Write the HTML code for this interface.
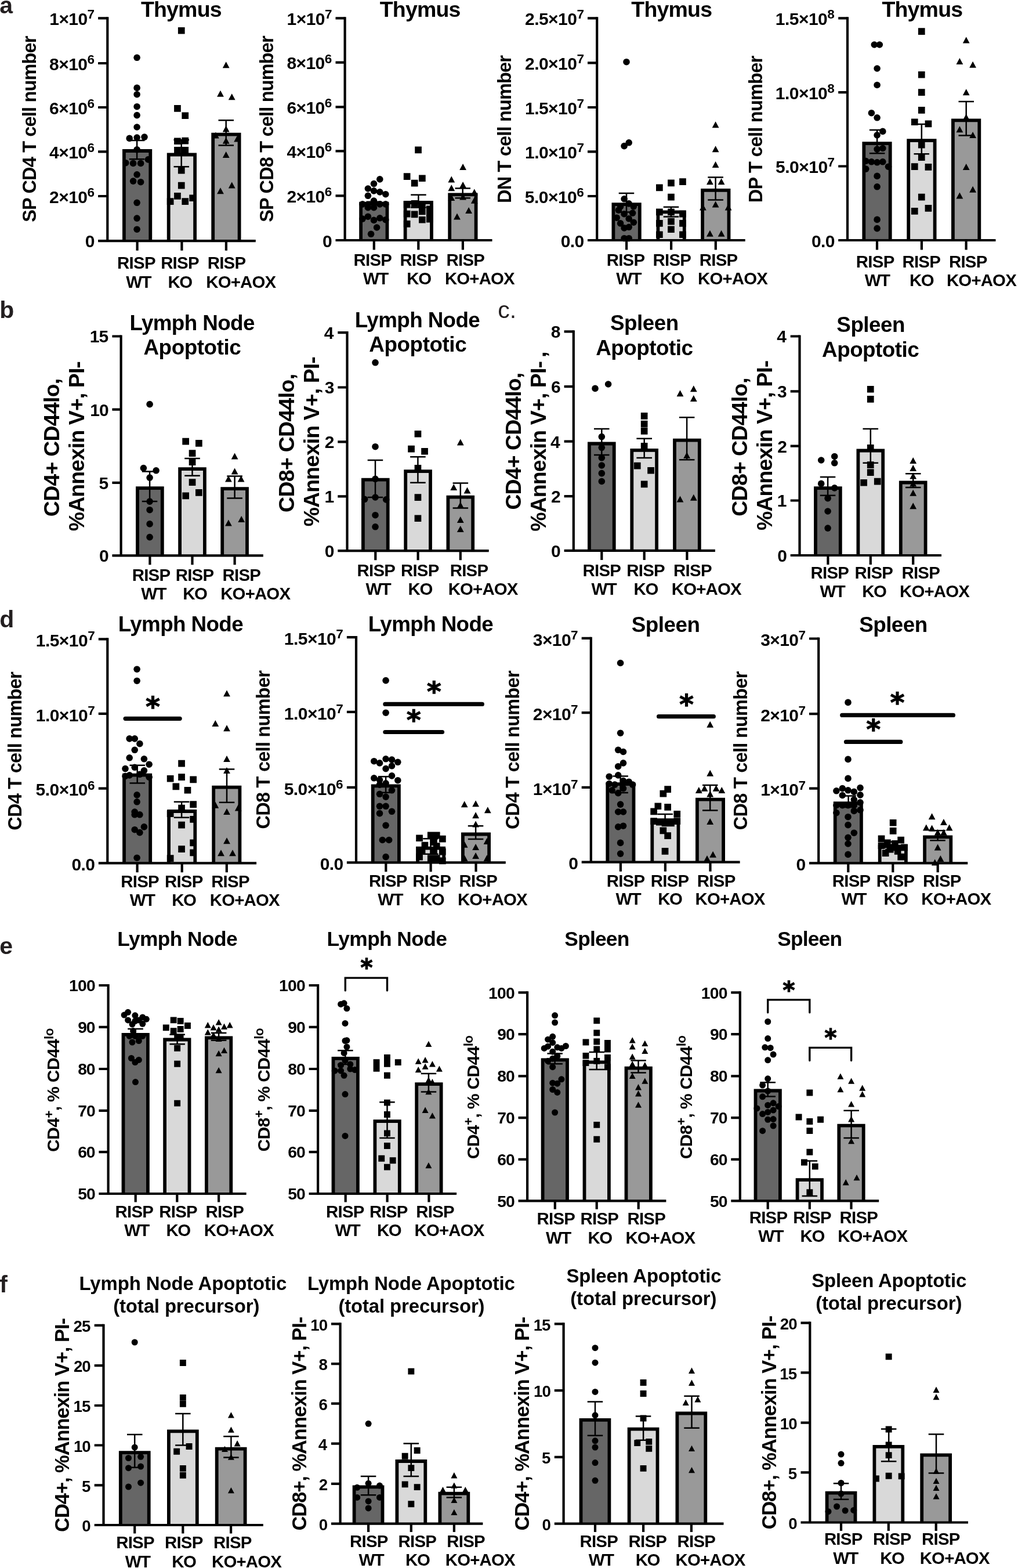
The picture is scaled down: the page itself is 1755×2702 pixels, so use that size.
<!DOCTYPE html>
<html lang="en"><head><meta charset="utf-8"><title>Figure</title>
<style>
html,body{margin:0;padding:0;background:#fff}
body{width:1755px;height:2702px;overflow:hidden}
svg{display:block}
svg text{font-family:'Liberation Sans', sans-serif;font-weight:bold;fill:#000}
</style></head><body>
<svg width="1755" height="2702" viewBox="0 0 1755 2702">
<rect width="1755" height="2702" fill="#fff"/>
<g><rect x="213.9" y="260" width="45.4" height="155.1" fill="#666666"/><path d="M213.9 415.1V260H259.3V415.1" fill="none" stroke="#000" stroke-width="5.8"/><rect x="290.7" y="266.5" width="45.4" height="148.6" fill="#d9d9d9"/><path d="M290.7 415.1V266.5H336.1V415.1" fill="none" stroke="#000" stroke-width="5.8"/><rect x="367.2" y="231.6" width="45.4" height="183.5" fill="#999999"/><path d="M367.2 415.1V231.6H412.6V415.1" fill="none" stroke="#000" stroke-width="5.8"/><path d="M185.3 29.3V417.2M169.1 415.1H440.8" stroke="#000" stroke-width="4.2" fill="none"/><path d="M169.1 31.4H185.3M169.1 109H185.3M169.1 185H185.3M169.1 261.3H185.3M169.1 338H185.3M236.6 415.1V431.7M313.4 415.1V431.7M389.9 415.1V431.7" stroke="#000" stroke-width="4.2" fill="none"/><text x="85.28" y="43.05" font-size="30" letter-spacing="-0.572">1×10<tspan dy="-10.8" font-size="22.5">7</tspan></text><text x="85.1" y="120.67" font-size="30" letter-spacing="-0.572">8×10<tspan dy="-10.8" font-size="22.5">6</tspan></text><text x="85.1" y="196.68" font-size="30" letter-spacing="-0.572">6×10<tspan dy="-10.8" font-size="22.5">6</tspan></text><text x="85.1" y="273" font-size="30" letter-spacing="-0.572">4×10<tspan dy="-10.8" font-size="22.5">6</tspan></text><text x="85.1" y="349.65" font-size="30" letter-spacing="-0.572">2×10<tspan dy="-10.8" font-size="22.5">6</tspan></text><text x="146.66" y="426.3" font-size="30" letter-spacing="0">0</text><path d="M236.1 241.9V274.3M222.8 241.9H249.4M222.8 274.3H249.4M312.7 240.9V287.2M299.5 240.9H326M299.5 287.2H326M389.7 207.3V250.6M376.5 207.3H403M376.5 250.6H403" stroke="#000" stroke-width="2.5" fill="none"/><circle cx="236.1" cy="99.3" r="5.8"/><circle cx="236.1" cy="151.4" r="5.8"/><circle cx="236.1" cy="162.7" r="5.8"/><circle cx="236.1" cy="183.7" r="5.8"/><circle cx="236.1" cy="198.6" r="5.8"/><circle cx="236.1" cy="219" r="5.8"/><circle cx="223.2" cy="238.4" r="5.8"/><circle cx="236.1" cy="237.1" r="5.8"/><circle cx="249" cy="236.1" r="5.8"/><circle cx="236.1" cy="257.8" r="5.8"/><circle cx="255.5" cy="274.9" r="5.8"/><circle cx="216.7" cy="280.7" r="5.8"/><circle cx="229.6" cy="281.4" r="5.8"/><circle cx="242.6" cy="281.4" r="5.8"/><circle cx="236.1" cy="300.8" r="5.8"/><circle cx="229.6" cy="312.1" r="5.8"/><circle cx="242.6" cy="313.7" r="5.8"/><circle cx="236.1" cy="349.3" r="5.8"/><circle cx="236.1" cy="376.1" r="5.8"/><circle cx="236.1" cy="395.2" r="5.8"/><path d="M306.9 46.9h11.7v11.7h-11.7zM300.1 181.1h11.7v11.7h-11.7zM313.4 193.4h11.7v11.7h-11.7zM300.1 237.4h11.7v11.7h-11.7zM313.4 236.7h11.7v11.7h-11.7zM300.1 252.9h11.7v11.7h-11.7zM313.4 252.9h11.7v11.7h-11.7zM306.9 287.8h11.7v11.7h-11.7zM306.9 313.7h11.7v11.7h-11.7zM287.8 341.2h11.7v11.7h-11.7zM300.1 332.1h11.7v11.7h-11.7zM313.4 341.2h11.7v11.7h-11.7zM326.3 335.4h11.7v11.7h-11.7z"/><path d="M389.7 106.3l5.9 11h-11.8zM380 155.8l5.9 11h-11.8zM399.7 161.3l5.9 11h-11.8zM389.7 216.6l5.9 11h-11.8zM371.9 227.6l5.9 11h-11.8zM409.1 233.4l5.9 11h-11.8zM389.7 236.7l5.9 11h-11.8zM389.7 260.9l5.9 11h-11.8zM399.7 313.6l5.9 11h-11.8zM380 323.3l5.9 11h-11.8z"/><text x="242.89" y="29.1" font-size="37.5" letter-spacing="-0.812">Thymus</text><text transform="translate(62.1 382.81) rotate(-90)" font-size="32.5" letter-spacing="-0.84">SP CD4 T cell number</text><text x="202.11" y="463.45" font-size="29.4" letter-spacing="-0.74">RISP</text><text x="217.37" y="496.44" font-size="29.4" letter-spacing="-1.535">WT</text><text x="277.14" y="463.45" font-size="29.4" letter-spacing="-0.74">RISP</text><text x="289.42" y="496.44" font-size="29.4" letter-spacing="-1.384">KO</text><text x="357.67" y="463.45" font-size="29.4" letter-spacing="-0.74">RISP</text><text x="355.31" y="496.44" font-size="29.4" letter-spacing="-0.83">KO+AOX</text></g>
<g><rect x="622.1" y="350.6" width="45.4" height="63.4" fill="#666666"/><path d="M622.1 414V350.6H667.5V414" fill="none" stroke="#000" stroke-width="5.8"/><rect x="698.6" y="349" width="45.4" height="65" fill="#d9d9d9"/><path d="M698.6 414V349H744V414" fill="none" stroke="#000" stroke-width="5.8"/><rect x="775.2" y="335.4" width="45.4" height="78.6" fill="#999999"/><path d="M775.2 414V335.4H820.6V414" fill="none" stroke="#000" stroke-width="5.8"/><path d="M594.6 29.3V416.1M578.5 414H848.5" stroke="#000" stroke-width="4.2" fill="none"/><path d="M578.5 31.4H594.6M578.5 107.7H594.6M578.5 184.3H594.6M578.5 260.3H594.6M578.5 337.3H594.6M644.8 414V430.6M721.3 414V430.6M797.9 414V430.6" stroke="#000" stroke-width="4.2" fill="none"/><text x="494.6" y="43.05" font-size="30" letter-spacing="-0.572">1×10<tspan dy="-10.8" font-size="22.5">7</tspan></text><text x="494.42" y="119.38" font-size="30" letter-spacing="-0.572">8×10<tspan dy="-10.8" font-size="22.5">6</tspan></text><text x="494.42" y="196.03" font-size="30" letter-spacing="-0.572">6×10<tspan dy="-10.8" font-size="22.5">6</tspan></text><text x="494.42" y="272.03" font-size="30" letter-spacing="-0.572">4×10<tspan dy="-10.8" font-size="22.5">6</tspan></text><text x="494.42" y="349" font-size="30" letter-spacing="-0.572">2×10<tspan dy="-10.8" font-size="22.5">6</tspan></text><text x="555.99" y="425.65" font-size="30" letter-spacing="0">0</text><path d="M644.8 347.7V353.2M631.5 347.7H658M631.5 353.2H658M721.4 335.7V357.4M708.2 335.7H734.7M708.2 357.4H734.7M797.7 324.4V341.2M784.5 324.4H811M784.5 341.2H811" stroke="#000" stroke-width="2.5" fill="none"/><circle cx="654.8" cy="308.9" r="5.8"/><circle cx="644.5" cy="316.6" r="5.8"/><circle cx="634.4" cy="325" r="5.8"/><circle cx="644.5" cy="328.9" r="5.8"/><circle cx="654.8" cy="330.9" r="5.8"/><circle cx="664.8" cy="334.7" r="5.8"/><circle cx="634.4" cy="337.3" r="5.8"/><circle cx="644.5" cy="346.1" r="5.8"/><circle cx="625" cy="351.9" r="5.8"/><circle cx="654.8" cy="351.9" r="5.8"/><circle cx="664.8" cy="351.9" r="5.8"/><circle cx="634.4" cy="357.7" r="5.8"/><circle cx="644.5" cy="357.7" r="5.8"/><circle cx="625" cy="377.1" r="5.8"/><circle cx="634.4" cy="373.2" r="5.8"/><circle cx="644.5" cy="379.4" r="5.8"/><circle cx="654.8" cy="375.8" r="5.8"/><circle cx="664.8" cy="378.7" r="5.8"/><circle cx="649.6" cy="392" r="5.8"/><circle cx="639.6" cy="403.3" r="5.8"/><path d="M715.2 252.6h11.7v11.7h-11.7zM695.8 298.2h11.7v11.7h-11.7zM722 301.4h11.7v11.7h-11.7zM708.8 309.8h11.7v11.7h-11.7zM695.8 346.7h11.7v11.7h-11.7zM708.8 345.1h11.7v11.7h-11.7zM722 349.9h11.7v11.7h-11.7zM735 354.4h11.7v11.7h-11.7zM695.8 362.8h11.7v11.7h-11.7zM708.8 363.5h11.7v11.7h-11.7zM722 358.6h11.7v11.7h-11.7zM735 362.8h11.7v11.7h-11.7zM722 372.9h11.7v11.7h-11.7zM735 371.9h11.7v11.7h-11.7zM695.8 380h11.7v11.7h-11.7z"/><path d="M798.1 281.9l5.9 11h-11.8zM778.3 303.6l5.9 11h-11.8zM778.3 318.2l5.9 11h-11.8zM798.1 313l5.9 11h-11.8zM817.8 325.6l5.9 11h-11.8zM778.3 335l5.9 11h-11.8zM798.1 333.4l5.9 11h-11.8zM817.8 339.8l5.9 11h-11.8zM808.1 357l5.9 11h-11.8zM788 367.6l5.9 11h-11.8z"/><text x="654.69" y="29.1" font-size="37.5" letter-spacing="-0.812">Thymus</text><text transform="translate(471.3 382.81) rotate(-90)" font-size="32.5" letter-spacing="-0.819">SP CD8 T cell number</text><text x="609.49" y="457.63" font-size="29.4" letter-spacing="-0.74">RISP</text><text x="626.05" y="489.97" font-size="29.4" letter-spacing="-1.535">WT</text><text x="689.38" y="457.63" font-size="29.4" letter-spacing="-0.74">RISP</text><text x="701.33" y="489.97" font-size="29.4" letter-spacing="-1.384">KO</text><text x="769.58" y="457.63" font-size="29.4" letter-spacing="-0.74">RISP</text><text x="766.9" y="489.97" font-size="29.4" letter-spacing="-0.83">KO+AOX</text></g>
<g><rect x="1057.4" y="352.2" width="45.4" height="61.8" fill="#666666"/><path d="M1057.4 414V352.2H1102.8V414" fill="none" stroke="#000" stroke-width="5.8"/><rect x="1134.4" y="365.4" width="45.4" height="48.5" fill="#d9d9d9"/><path d="M1134.4 414V365.4H1179.8V414" fill="none" stroke="#000" stroke-width="5.8"/><rect x="1211.1" y="327.9" width="45.4" height="86" fill="#999999"/><path d="M1211.1 414V327.9H1256.5V414" fill="none" stroke="#000" stroke-width="5.8"/><path d="M1029.2 29.3V416.1M1013 414H1284.7" stroke="#000" stroke-width="4.2" fill="none"/><path d="M1013 31.4H1029.2M1013 108.3H1029.2M1013 185H1029.2M1013 261.3H1029.2M1013 338H1029.2M1080.1 414V430.6M1157.1 414V430.6M1233.8 414V430.6" stroke="#000" stroke-width="4.2" fill="none"/><text x="904.97" y="43.05" font-size="30" letter-spacing="-0.522">2.5×10<tspan dy="-10.8" font-size="22.5">7</tspan></text><text x="904.97" y="120.03" font-size="30" letter-spacing="-0.522">2.0×10<tspan dy="-10.8" font-size="22.5">7</tspan></text><text x="904.97" y="196.68" font-size="30" letter-spacing="-0.522">1.5×10<tspan dy="-10.8" font-size="22.5">7</tspan></text><text x="904.97" y="273" font-size="30" letter-spacing="-0.522">1.0×10<tspan dy="-10.8" font-size="22.5">7</tspan></text><text x="904.79" y="349.65" font-size="30" letter-spacing="-0.522">5.0×10<tspan dy="-10.8" font-size="22.5">6</tspan></text><text x="966.84" y="425.65" font-size="30" letter-spacing="-0.665">0.0</text><path d="M1080 333.1V365.5M1066.7 333.1H1093.2M1066.7 365.5H1093.2M1156.9 356.7V373.5M1143.7 356.7H1170.2M1143.7 373.5H1170.2M1233.6 305.6V344.4M1220.3 305.6H1246.9M1220.3 344.4H1246.9" stroke="#000" stroke-width="2.5" fill="none"/><circle cx="1080" cy="106.7" r="5.8"/><circle cx="1084.2" cy="245.8" r="5.8"/><circle cx="1076.1" cy="251.6" r="5.8"/><circle cx="1076.1" cy="342.8" r="5.8"/><circle cx="1069.6" cy="355.8" r="5.8"/><circle cx="1084.2" cy="350.9" r="5.8"/><circle cx="1092.3" cy="355.8" r="5.8"/><circle cx="1063.2" cy="375.2" r="5.8"/><circle cx="1076.1" cy="368.7" r="5.8"/><circle cx="1090.6" cy="367.1" r="5.8"/><circle cx="1069.6" cy="384.9" r="5.8"/><circle cx="1084.2" cy="376.8" r="5.8"/><circle cx="1092.3" cy="383.2" r="5.8"/><circle cx="1076.1" cy="392.9" r="5.8"/><circle cx="1084.2" cy="391.3" r="5.8"/><circle cx="1076.1" cy="410.7" r="5.8"/><circle cx="1084.2" cy="410.7" r="5.8"/><circle cx="1066.4" cy="362.2" r="5.8"/><path d="M1131 317.6h11.7v11.7h-11.7zM1151.1 309.5h11.7v11.7h-11.7zM1171.1 307.2h11.7v11.7h-11.7zM1151.1 333.7h11.7v11.7h-11.7zM1131 359.6h11.7v11.7h-11.7zM1151.1 359.6h11.7v11.7h-11.7zM1171.1 362.8h11.7v11.7h-11.7zM1131 379h11.7v11.7h-11.7zM1171.1 379h11.7v11.7h-11.7zM1151.1 389.4h11.7v11.7h-11.7zM1131 398.4h11.7v11.7h-11.7zM1171.1 398.4h11.7v11.7h-11.7zM1151.1 375.8h11.7v11.7h-11.7z"/><path d="M1233.6 209.2l5.9 11h-11.8zM1233.6 251.2l5.9 11h-11.8zM1233.6 278.1l5.9 11h-11.8zM1223.9 307.2l5.9 11h-11.8zM1243.6 307.2l5.9 11h-11.8zM1233.6 346.6l5.9 11h-11.8zM1211.9 351.5l5.9 11h-11.8zM1255.6 351.5l5.9 11h-11.8zM1223.9 396.8l5.9 11h-11.8zM1243.6 396.8l5.9 11h-11.8z"/><text x="1088.29" y="29.1" font-size="37.5" letter-spacing="-0.812">Thymus</text><text transform="translate(880.9 349.94) rotate(-90)" font-size="32.5" letter-spacing="-0.823">DN T cell number</text><text x="1045.66" y="457.63" font-size="29.4" letter-spacing="-0.74">RISP</text><text x="1062.22" y="489.97" font-size="29.4" letter-spacing="-1.535">WT</text><text x="1125.55" y="457.63" font-size="29.4" letter-spacing="-0.74">RISP</text><text x="1137.5" y="489.97" font-size="29.4" letter-spacing="-1.384">KO</text><text x="1205.76" y="457.63" font-size="29.4" letter-spacing="-0.74">RISP</text><text x="1203.07" y="489.97" font-size="29.4" letter-spacing="-0.83">KO+AOX</text></g>
<g><rect x="1489.3" y="247.1" width="45.4" height="166.9" fill="#666666"/><path d="M1489.3 414V247.1H1534.7V414" fill="none" stroke="#000" stroke-width="5.8"/><rect x="1566.2" y="242.2" width="45.4" height="171.7" fill="#d9d9d9"/><path d="M1566.2 414V242.2H1611.6V414" fill="none" stroke="#000" stroke-width="5.8"/><rect x="1642.9" y="207.3" width="45.4" height="206.7" fill="#999999"/><path d="M1642.9 414V207.3H1688.3V414" fill="none" stroke="#000" stroke-width="5.8"/><path d="M1461 29.3V416.1M1445.2 414H1716.5" stroke="#000" stroke-width="4.2" fill="none"/><path d="M1445.2 31.4H1461M1445.2 159.1H1461M1445.2 286.5H1461M1512 414V430.6M1588.9 414V430.6M1665.6 414V430.6" stroke="#000" stroke-width="4.2" fill="none"/><text x="1336.82" y="43.05" font-size="30" letter-spacing="-0.522">1.5×10<tspan dy="-10.8" font-size="22.5">8</tspan></text><text x="1336.82" y="170.8" font-size="30" letter-spacing="-0.522">1.0×10<tspan dy="-10.8" font-size="22.5">8</tspan></text><text x="1337.11" y="298.23" font-size="30" letter-spacing="-0.522">5.0×10<tspan dy="-10.8" font-size="22.5">7</tspan></text><text x="1398.98" y="425.65" font-size="30" letter-spacing="-0.665">0.0</text><path d="M1512.1 224.1V264.2M1498.9 224.1H1525.4M1498.9 264.2H1525.4M1588.8 214.1V265.2M1575.5 214.1H1602M1575.5 265.2H1602M1665.7 175V233.5M1652.5 175H1679M1652.5 233.5H1679" stroke="#000" stroke-width="2.5" fill="none"/><circle cx="1507.3" cy="77" r="5.8"/><circle cx="1516.3" cy="77" r="5.8"/><circle cx="1512.1" cy="118" r="5.8"/><circle cx="1512.1" cy="146.5" r="5.8"/><circle cx="1502.4" cy="194.7" r="5.8"/><circle cx="1512.1" cy="202.8" r="5.8"/><circle cx="1521.8" cy="226.4" r="5.8"/><circle cx="1512.1" cy="232.9" r="5.8"/><circle cx="1512.1" cy="257.1" r="5.8"/><circle cx="1521.8" cy="255.5" r="5.8"/><circle cx="1492.7" cy="277.5" r="5.8"/><circle cx="1502.4" cy="278.8" r="5.8"/><circle cx="1512.1" cy="279.8" r="5.8"/><circle cx="1521.8" cy="278.8" r="5.8"/><circle cx="1531.5" cy="287.2" r="5.8"/><circle cx="1492.7" cy="291.1" r="5.8"/><circle cx="1512.1" cy="303.4" r="5.8"/><circle cx="1512.1" cy="321.8" r="5.8"/><circle cx="1512.1" cy="378.4" r="5.8"/><circle cx="1512.1" cy="393.6" r="5.8"/><path d="M1582.9 48.2h11.7v11.7h-11.7zM1582.9 122.9h11.7v11.7h-11.7zM1582.9 153.3h11.7v11.7h-11.7zM1582.9 184h11.7v11.7h-11.7zM1570.9 204.4h11.7v11.7h-11.7zM1594.6 207.6h11.7v11.7h-11.7zM1582.9 243.8h11.7v11.7h-11.7zM1582.9 265.2h11.7v11.7h-11.7zM1570.9 281.3h11.7v11.7h-11.7zM1594.6 282h11.7v11.7h-11.7zM1582.9 333.7h11.7v11.7h-11.7zM1570.9 358h11.7v11.7h-11.7zM1594.6 353.1h11.7v11.7h-11.7z"/><path d="M1665.7 63.6l5.9 11h-11.8zM1654.4 99.9l5.9 11h-11.8zM1677.1 105.7l5.9 11h-11.8zM1665.7 153.2l5.9 11h-11.8zM1665.7 196.2l5.9 11h-11.8zM1654.4 217.3l5.9 11h-11.8zM1677.1 227l5.9 11h-11.8zM1665.7 281.9l5.9 11h-11.8zM1677.1 320.7l5.9 11h-11.8zM1654.4 331.4l5.9 11h-11.8z"/><text x="1520.39" y="29.1" font-size="37.5" letter-spacing="-0.812">Thymus</text><text transform="translate(1313.7 349.25) rotate(-90)" font-size="32.5" letter-spacing="-0.765">DP T cell number</text><text x="1475.87" y="460.87" font-size="29.4" letter-spacing="-0.74">RISP</text><text x="1490.81" y="493.21" font-size="29.4" letter-spacing="-1.535">WT</text><text x="1555.43" y="460.87" font-size="29.4" letter-spacing="-0.74">RISP</text><text x="1568.03" y="493.21" font-size="29.4" letter-spacing="-1.384">KO</text><text x="1635.96" y="460.87" font-size="29.4" letter-spacing="-0.74">RISP</text><text x="1631.97" y="493.21" font-size="29.4" letter-spacing="-0.83">KO+AOX</text></g>
<g><rect x="237" y="841.2" width="42.8" height="116.1" fill="#666666"/><path d="M237 957.3V841.2H279.8V957.3" fill="none" stroke="#000" stroke-width="5.8"/><rect x="310.1" y="808.2" width="42.8" height="149.1" fill="#d9d9d9"/><path d="M310.1 957.3V808.2H352.9V957.3" fill="none" stroke="#000" stroke-width="5.8"/><rect x="383.2" y="842.1" width="42.8" height="115.1" fill="#999999"/><path d="M383.2 957.3V842.1H426V957.3" fill="none" stroke="#000" stroke-width="5.8"/><path d="M208.6 577.4V959.4M193.4 957.3H453.8" stroke="#000" stroke-width="4.2" fill="none"/><path d="M193.4 579.5H208.6M193.4 705.7H208.6M193.4 831.8H208.6M258.4 957.3V973.3M331.5 957.3V973.3M404.6 957.3V973.3" stroke="#000" stroke-width="4.2" fill="none"/><text x="154.87" y="590.42" font-size="30" letter-spacing="-1.038">15</text><text x="155.25" y="716.55" font-size="30" letter-spacing="-1.025">10</text><text x="170.52" y="842.68" font-size="30" letter-spacing="0">5</text><text x="170.91" y="968.17" font-size="30" letter-spacing="0">0</text><path d="M258.1 812.4V864.1M244.8 812.4H271.3M244.8 864.1H271.3M331.5 790.1V819.8M318.2 790.1H344.8M318.2 819.8H344.8M404.6 820.5V858.6M391.3 820.5H417.9M391.3 858.6H417.9" stroke="#000" stroke-width="2.5" fill="none"/><circle cx="258.1" cy="696.6" r="5.8"/><circle cx="247.4" cy="806.6" r="5.8"/><circle cx="269.1" cy="810.8" r="5.8"/><circle cx="258.1" cy="823.1" r="5.8"/><circle cx="258.1" cy="864.1" r="5.8"/><circle cx="258.1" cy="878.7" r="5.8"/><circle cx="258.1" cy="902.9" r="5.8"/><circle cx="258.1" cy="925.6" r="5.8"/><path d="M314.3 754.8h11.7v11.7h-11.7zM337 758h11.7v11.7h-11.7zM325.7 775.2h11.7v11.7h-11.7zM325.7 790.4h11.7v11.7h-11.7zM325.7 825.3h11.7v11.7h-11.7zM337 843.1h11.7v11.7h-11.7zM314.3 848.6h11.7v11.7h-11.7z"/><path d="M404.6 780.6l5.9 11h-11.8zM404.6 806.5l5.9 11h-11.8zM393.9 819.4l5.9 11h-11.8zM415.6 819.4l5.9 11h-11.8zM416.2 889l5.9 11h-11.8zM393.9 895.4l5.9 11h-11.8z"/><text x="223.42" y="568.5" font-size="36.8" letter-spacing="-0.609">Lymph Node</text><text x="247.47" y="610.9" font-size="36.8" letter-spacing="-0.428">Apoptotic</text><text transform="translate(101.7 890.13) rotate(-90)" font-size="37.4" letter-spacing="-0.725">CD4+ CD44lo,</text><text transform="translate(145 915.2) rotate(-90)" font-size="37.4" letter-spacing="-0.896">%Annexin V+, PI-</text><text x="227.66" y="1000.94" font-size="29.4" letter-spacing="-0.74">RISP</text><text x="243.25" y="1033.29" font-size="29.4" letter-spacing="-1.535">WT</text><text x="302.69" y="1000.94" font-size="29.4" letter-spacing="-0.74">RISP</text><text x="315.29" y="1033.29" font-size="29.4" letter-spacing="-1.384">KO</text><text x="383.54" y="1000.94" font-size="29.4" letter-spacing="-0.74">RISP</text><text x="380.21" y="1033.29" font-size="29.4" letter-spacing="-0.83">KO+AOX</text></g>
<g><rect x="625.9" y="826.6" width="42.8" height="122.6" fill="#666666"/><path d="M625.9 949.2V826.6H668.7V949.2" fill="none" stroke="#000" stroke-width="5.8"/><rect x="699.2" y="812.1" width="42.8" height="137.1" fill="#d9d9d9"/><path d="M699.2 949.2V812.1H742V949.2" fill="none" stroke="#000" stroke-width="5.8"/><rect x="772.4" y="856.7" width="42.8" height="92.5" fill="#999999"/><path d="M772.4 949.2V856.7H815.2V949.2" fill="none" stroke="#000" stroke-width="5.8"/><path d="M598.5 571V951.3M582.3 949.2H842.7" stroke="#000" stroke-width="4.2" fill="none"/><path d="M582.3 573.1H598.5M582.3 667.5H598.5M582.3 761.3H598.5M582.3 855.4H598.5M647.3 949.2V965.2M720.6 949.2V965.2M793.8 949.2V965.2" stroke="#000" stroke-width="4.2" fill="none"/><text x="558.76" y="583.95" font-size="30" letter-spacing="0">4</text><text x="559.66" y="678.39" font-size="30" letter-spacing="0">3</text><text x="559.78" y="772.18" font-size="30" letter-spacing="0">2</text><text x="559.42" y="866.29" font-size="30" letter-spacing="0">1</text><text x="559.81" y="960.08" font-size="30" letter-spacing="0">0</text><path d="M647 793V857M633.7 793H660.2M633.7 857H660.2M720.4 787.2V831.8M707.1 787.2H733.7M707.1 831.8H733.7M793.8 832.4V875.5M780.6 832.4H807.1M780.6 875.5H807.1" stroke="#000" stroke-width="2.5" fill="none"/><circle cx="647" cy="624.8" r="5.8"/><circle cx="647" cy="769.7" r="5.8"/><circle cx="647" cy="825.3" r="5.8"/><circle cx="628.6" cy="860.3" r="5.8"/><circle cx="647" cy="857" r="5.8"/><circle cx="665.7" cy="860.9" r="5.8"/><circle cx="647" cy="887.7" r="5.8"/><circle cx="647" cy="907.8" r="5.8"/><path d="M714.6 741.9h11.7v11.7h-11.7zM703.2 767.7h11.7v11.7h-11.7zM726.2 771.9h11.7v11.7h-11.7zM714.6 801h11.7v11.7h-11.7zM714.6 851.2h11.7v11.7h-11.7zM714.6 887.4h11.7v11.7h-11.7z"/><path d="M793.8 756.4l5.9 11h-11.8zM782.2 834l5.9 11h-11.8zM805.5 839.5l5.9 11h-11.8zM793.8 864.7l5.9 11h-11.8zM793.8 889.9l5.9 11h-11.8zM793.8 906.1l5.9 11h-11.8z"/><text x="611.82" y="563.7" font-size="36.8" letter-spacing="-0.609">Lymph Node</text><text x="636.37" y="606.1" font-size="36.8" letter-spacing="-0.428">Apoptotic</text><text transform="translate(506.7 882.93) rotate(-90)" font-size="37.4" letter-spacing="-0.662">CD8+ CD44lo,</text><text transform="translate(549.7 907.3) rotate(-90)" font-size="37.4" letter-spacing="-0.896">%Annexin V+, PI-</text><text x="615.59" y="992.54" font-size="29.4" letter-spacing="-0.74">RISP</text><text x="630.53" y="1024.88" font-size="29.4" letter-spacing="-1.535">WT</text><text x="690.94" y="992.54" font-size="29.4" letter-spacing="-0.74">RISP</text><text x="703.55" y="1024.88" font-size="29.4" letter-spacing="-1.384">KO</text><text x="775.68" y="992.54" font-size="29.4" letter-spacing="-0.74">RISP</text><text x="772.67" y="1024.88" font-size="29.4" letter-spacing="-0.83">KO+AOX</text></g>
<g><rect x="1015.9" y="764.5" width="42.8" height="184.4" fill="#666666"/><path d="M1015.9 948.9V764.5H1058.7V948.9" fill="none" stroke="#000" stroke-width="5.8"/><rect x="1089.3" y="775.8" width="42.8" height="173" fill="#d9d9d9"/><path d="M1089.3 948.9V775.8H1132.1V948.9" fill="none" stroke="#000" stroke-width="5.8"/><rect x="1163" y="758.7" width="42.8" height="190.2" fill="#999999"/><path d="M1163 948.9V758.7H1205.8V948.9" fill="none" stroke="#000" stroke-width="5.8"/><path d="M988.8 569.3V951M972.6 948.9H1232.9" stroke="#000" stroke-width="4.2" fill="none"/><path d="M972.6 571.4H988.8M972.6 666.2H988.8M972.6 760.6H988.8M972.6 855.1H988.8M1037.3 948.9V964.9M1110.7 948.9V964.9M1184.4 948.9V964.9" stroke="#000" stroke-width="4.2" fill="none"/><text x="949.81" y="582.33" font-size="30" letter-spacing="0">8</text><text x="949.96" y="677.09" font-size="30" letter-spacing="0">6</text><text x="949.06" y="771.53" font-size="30" letter-spacing="0">4</text><text x="950.08" y="865.97" font-size="30" letter-spacing="0">2</text><text x="950.11" y="959.76" font-size="30" letter-spacing="0">0</text><path d="M1037.3 739V783.9M1024 739H1050.5M1024 783.9H1050.5M1110.7 755.8V789.1M1097.4 755.8H1124M1097.4 789.1H1124M1184.1 719.2V792.3M1170.9 719.2H1197.4M1170.9 792.3H1197.4" stroke="#000" stroke-width="2.5" fill="none"/><circle cx="1026" cy="669.4" r="5.8"/><circle cx="1048.6" cy="662" r="5.8"/><circle cx="1037.3" cy="752.6" r="5.8"/><circle cx="1037.3" cy="771.3" r="5.8"/><circle cx="1037.3" cy="788.8" r="5.8"/><circle cx="1037.3" cy="802" r="5.8"/><circle cx="1037.3" cy="815.6" r="5.8"/><circle cx="1037.3" cy="829.5" r="5.8"/><path d="M1104.8 711.1h11.7v11.7h-11.7zM1104.8 724.7h11.7v11.7h-11.7zM1104.8 737h11.7v11.7h-11.7zM1104.8 762.9h11.7v11.7h-11.7zM1092.9 796.8h11.7v11.7h-11.7zM1116.2 804.9h11.7v11.7h-11.7zM1104.8 828.5h11.7v11.7h-11.7z"/><path d="M1172.5 672.3l5.9 11h-11.8zM1195.8 664.2l5.9 11h-11.8zM1195.8 681l5.9 11h-11.8zM1184.1 779l5.9 11h-11.8zM1172.5 854.4l5.9 11h-11.8zM1195.8 851.8l5.9 11h-11.8z"/><text x="1052.07" y="569.1" font-size="36.8" letter-spacing="-0.511">Spleen</text><text x="1027.32" y="611.8" font-size="36.8" letter-spacing="-0.515">Apoptotic</text><text transform="translate(897.8 878.53) rotate(-90)" font-size="37.4" letter-spacing="-0.88">CD4+ CD44lo,</text><text transform="translate(941.4 915.8) rotate(-90)" font-size="37.4" letter-spacing="-0.849">%Annexin V+, PI-</text><text transform="translate(941.4 616.01) rotate(-90)" font-size="37.4" letter-spacing="0">,</text><text x="1004.59" y="992.54" font-size="29.4" letter-spacing="-0.74">RISP</text><text x="1019.53" y="1024.88" font-size="29.4" letter-spacing="-1.535">WT</text><text x="1080.27" y="992.54" font-size="29.4" letter-spacing="-0.74">RISP</text><text x="1092.55" y="1024.88" font-size="29.4" letter-spacing="-1.384">KO</text><text x="1161.12" y="992.54" font-size="29.4" letter-spacing="-0.74">RISP</text><text x="1157.79" y="1024.88" font-size="29.4" letter-spacing="-0.83">KO+AOX</text></g>
<g><rect x="1406" y="841.2" width="42.8" height="115.8" fill="#666666"/><path d="M1406 957V841.2H1448.8V957" fill="none" stroke="#000" stroke-width="5.8"/><rect x="1479.4" y="776.5" width="42.8" height="180.5" fill="#d9d9d9"/><path d="M1479.4 957V776.5H1522.2V957" fill="none" stroke="#000" stroke-width="5.8"/><rect x="1552.8" y="831.5" width="42.8" height="125.5" fill="#999999"/><path d="M1552.8 957V831.5H1595.6V957" fill="none" stroke="#000" stroke-width="5.8"/><path d="M1378.5 577.4V959.1M1362.7 957H1623" stroke="#000" stroke-width="4.2" fill="none"/><path d="M1362.7 579.5H1378.5M1362.7 674.3H1378.5M1362.7 768.7H1378.5M1362.7 862.5H1378.5M1427.4 957V973M1500.8 957V973M1574.2 957V973" stroke="#000" stroke-width="4.2" fill="none"/><text x="1339.16" y="590.42" font-size="30" letter-spacing="0">4</text><text x="1340.06" y="685.18" font-size="30" letter-spacing="0">3</text><text x="1340.18" y="779.61" font-size="30" letter-spacing="0">2</text><text x="1339.82" y="873.4" font-size="30" letter-spacing="0">1</text><text x="1340.21" y="967.84" font-size="30" letter-spacing="0">0</text><path d="M1427.1 822.1V853.8M1413.8 822.1H1440.3M1413.8 853.8H1440.3M1500.8 739V797.8M1487.5 739H1514.1M1487.5 797.8H1514.1M1574.2 816.3V839.9M1561 816.3H1587.5M1561 839.9H1587.5" stroke="#000" stroke-width="2.5" fill="none"/><circle cx="1415.7" cy="793" r="5.8"/><circle cx="1438.7" cy="786.5" r="5.8"/><circle cx="1438.7" cy="797.8" r="5.8"/><circle cx="1415.7" cy="833.4" r="5.8"/><circle cx="1438.7" cy="840.9" r="5.8"/><circle cx="1427.1" cy="858.6" r="5.8"/><circle cx="1427.1" cy="881" r="5.8"/><circle cx="1427.1" cy="910.1" r="5.8"/><path d="M1494.9 664.9h11.7v11.7h-11.7zM1494.9 682h11.7v11.7h-11.7zM1494.9 766.1h11.7v11.7h-11.7zM1494.9 795.2h11.7v11.7h-11.7zM1494.9 808.2h11.7v11.7h-11.7zM1483.3 825.9h11.7v11.7h-11.7zM1506.9 823.7h11.7v11.7h-11.7z"/><path d="M1574.2 788.1l5.9 11h-11.8zM1574.2 801l5.9 11h-11.8zM1574.2 814.6l5.9 11h-11.8zM1574.2 827.5l5.9 11h-11.8zM1574.2 843.7l5.9 11h-11.8zM1574.2 866.3l5.9 11h-11.8z"/><text x="1442.37" y="572" font-size="36.8" letter-spacing="-0.511">Spleen</text><text x="1417.12" y="614.6" font-size="36.8" letter-spacing="-0.515">Apoptotic</text><text transform="translate(1288.1 889.83) rotate(-90)" font-size="37.4" letter-spacing="-0.643">CD8+ CD44lo,</text><text transform="translate(1331.1 914) rotate(-90)" font-size="37.4" letter-spacing="-0.876">%Annexin V+, PI-</text><text x="1397.6" y="996.74" font-size="29.4" letter-spacing="-0.74">RISP</text><text x="1413.51" y="1029.08" font-size="29.4" letter-spacing="-1.535">WT</text><text x="1473.6" y="996.74" font-size="29.4" letter-spacing="-0.74">RISP</text><text x="1486.2" y="1029.08" font-size="29.4" letter-spacing="-1.384">KO</text><text x="1554.45" y="996.74" font-size="29.4" letter-spacing="-0.74">RISP</text><text x="1551.12" y="1029.08" font-size="29.4" letter-spacing="-0.83">KO+AOX</text></g>
<g><rect x="214" y="1335.6" width="45.2" height="151.7" fill="#666666"/><path d="M214 1487.3V1335.6H259.2V1487.3" fill="none" stroke="#000" stroke-width="5.8"/><rect x="291.1" y="1398" width="45.2" height="89.3" fill="#d9d9d9"/><path d="M291.1 1487.3V1398H336.3V1487.3" fill="none" stroke="#000" stroke-width="5.8"/><rect x="368.2" y="1356.6" width="45.2" height="130.7" fill="#999999"/><path d="M368.2 1487.3V1356.6H413.4V1487.3" fill="none" stroke="#000" stroke-width="5.8"/><path d="M185.3 1099.3V1489.4M169.8 1487.3H442.1" stroke="#000" stroke-width="4.2" fill="none"/><path d="M169.8 1101.4H185.3M169.8 1229.8H185.3M169.8 1358.6H185.3M236.6 1487.3V1503.3M313.7 1487.3V1503.3M390.8 1487.3V1503.3" stroke="#000" stroke-width="4.2" fill="none"/><text x="61.74" y="1114.23" font-size="30" letter-spacing="-0.522">1.5×10<tspan dy="-10.8" font-size="22.5">7</tspan></text><text x="61.74" y="1242.63" font-size="30" letter-spacing="-0.522">1.0×10<tspan dy="-10.8" font-size="22.5">7</tspan></text><text x="61.56" y="1371.35" font-size="30" letter-spacing="-0.522">5.0×10<tspan dy="-10.8" font-size="22.5">6</tspan></text><text x="123.6" y="1500.07" font-size="30" letter-spacing="-0.665">0.0</text><path d="M236.7 1318.8V1349.5M223.5 1318.8H250M223.5 1349.5H250M313.1 1381.8V1408.7M299.8 1381.8H326.3M299.8 1408.7H326.3M391 1325.6V1382.8M377.7 1325.6H404.3M377.7 1382.8H404.3" stroke="#000" stroke-width="2.5" fill="none"/><circle cx="236.1" cy="1153.2" r="5.8"/><circle cx="236.1" cy="1173.2" r="5.8"/><circle cx="223.2" cy="1272.9" r="5.8"/><circle cx="232.2" cy="1272.9" r="5.8"/><circle cx="240.9" cy="1281.6" r="5.8"/><circle cx="232.2" cy="1292.3" r="5.8"/><circle cx="223.2" cy="1305.8" r="5.8"/><circle cx="248.4" cy="1307.8" r="5.8"/><circle cx="257.1" cy="1317.2" r="5.8"/><circle cx="216" cy="1324.6" r="5.8"/><circle cx="232.2" cy="1322.3" r="5.8"/><circle cx="248.4" cy="1327.8" r="5.8"/><circle cx="223.2" cy="1335.9" r="5.8"/><circle cx="240.9" cy="1334.3" r="5.8"/><circle cx="257.1" cy="1339.2" r="5.8"/><circle cx="216" cy="1337.5" r="5.8"/><circle cx="236.1" cy="1369.9" r="5.8"/><circle cx="236.1" cy="1381.8" r="5.8"/><circle cx="232.2" cy="1399" r="5.8"/><circle cx="240.9" cy="1403.8" r="5.8"/><circle cx="232.2" cy="1403.8" r="5.8"/><circle cx="248.4" cy="1424.9" r="5.8"/><circle cx="232.2" cy="1429.7" r="5.8"/><circle cx="240.9" cy="1434.6" r="5.8"/><circle cx="236.1" cy="1478.2" r="5.8"/><path d="M307.2 1309.7h11.7v11.7h-11.7zM287.8 1335.9h11.7v11.7h-11.7zM307.2 1333.3h11.7v11.7h-11.7zM327.3 1337.5h11.7v11.7h-11.7zM297.5 1349.5h11.7v11.7h-11.7zM317.6 1355.9h11.7v11.7h-11.7zM327.3 1380.2h11.7v11.7h-11.7zM307.2 1386.7h11.7v11.7h-11.7zM287.8 1396.4h11.7v11.7h-11.7zM327.3 1406.1h11.7v11.7h-11.7zM307.2 1415.8h11.7v11.7h-11.7zM327.3 1446.5h11.7v11.7h-11.7zM307.2 1457.2h11.7v11.7h-11.7zM327.3 1463.6h11.7v11.7h-11.7zM287.8 1473.3h11.7v11.7h-11.7z"/><path d="M391 1189.3l5.9 11h-11.8zM371.3 1241.1l5.9 11h-11.8zM391 1249.2l5.9 11h-11.8zM391 1301.9l5.9 11h-11.8zM391 1321.9l5.9 11h-11.8zM371.3 1381.8l5.9 11h-11.8zM410.7 1386.6l5.9 11h-11.8zM391 1393.1l5.9 11h-11.8zM391 1443.2l5.9 11h-11.8zM381 1464.2l5.9 11h-11.8zM401 1464.2l5.9 11h-11.8z"/><path d="M216.1 1238.3H310.1" stroke="#000" stroke-width="7.2" stroke-linecap="round" fill="none"/><text x="251.32" y="1233.71" font-size="46.9" stroke="#000" stroke-width="1.34" style="font-family:'DejaVu Sans',sans-serif">*</text><text x="203.72" y="1088.4" font-size="36.8" letter-spacing="-0.609">Lymph Node</text><text transform="translate(36.9 1430.73) rotate(-90)" font-size="32.5" letter-spacing="-0.741">CD4 T cell number</text><text x="208.25" y="1529" font-size="29.4" letter-spacing="-0.74">RISP</text><text x="223.84" y="1561.35" font-size="29.4" letter-spacing="-1.535">WT</text><text x="283.93" y="1529" font-size="29.4" letter-spacing="-0.74">RISP</text><text x="296.21" y="1561.35" font-size="29.4" letter-spacing="-1.384">KO</text><text x="364.14" y="1529" font-size="29.4" letter-spacing="-0.74">RISP</text><text x="361.77" y="1561.35" font-size="29.4" letter-spacing="-0.83">KO+AOX</text></g>
<g><rect x="642.7" y="1354.3" width="45.2" height="132" fill="#666666"/><path d="M642.7 1486.3V1354.3H687.9V1486.3" fill="none" stroke="#000" stroke-width="5.8"/><rect x="720" y="1461.7" width="45.2" height="24.6" fill="#d9d9d9"/><path d="M720 1486.3V1461.7H765.2V1486.3" fill="none" stroke="#000" stroke-width="5.8"/><rect x="797.9" y="1437.5" width="45.2" height="48.8" fill="#999999"/><path d="M797.9 1486.3V1437.5H843.1V1486.3" fill="none" stroke="#000" stroke-width="5.8"/><path d="M614 1096.1V1488.4M597.9 1486.3H871.8" stroke="#000" stroke-width="4.2" fill="none"/><path d="M597.9 1098.2H614M597.9 1226.9H614M597.9 1356.9H614M665.3 1486.3V1502.3M742.6 1486.3V1502.3M820.5 1486.3V1502.3" stroke="#000" stroke-width="4.2" fill="none"/><text x="489.82" y="1111" font-size="30" letter-spacing="-0.522">1.5×10<tspan dy="-10.8" font-size="22.5">7</tspan></text><text x="489.82" y="1239.72" font-size="30" letter-spacing="-0.522">1.0×10<tspan dy="-10.8" font-size="22.5">7</tspan></text><text x="489.64" y="1369.73" font-size="30" letter-spacing="-0.522">5.0×10<tspan dy="-10.8" font-size="22.5">6</tspan></text><text x="551.69" y="1499.1" font-size="30" letter-spacing="-0.665">0.0</text><path d="M665.1 1338.2V1365.7M651.9 1338.2H678.4M651.9 1365.7H678.4M742.4 1445.2V1471.8M729.2 1445.2H755.7M729.2 1471.8H755.7M820.1 1423.2V1445.9M806.8 1423.2H833.3M806.8 1445.9H833.3" stroke="#000" stroke-width="2.5" fill="none"/><circle cx="665.1" cy="1172.6" r="5.8"/><circle cx="665.1" cy="1228.2" r="5.8"/><circle cx="644.8" cy="1311.7" r="5.8"/><circle cx="654.5" cy="1314.9" r="5.8"/><circle cx="665.1" cy="1307.8" r="5.8"/><circle cx="675.5" cy="1309.1" r="5.8"/><circle cx="685.8" cy="1313.3" r="5.8"/><circle cx="675.5" cy="1319.8" r="5.8"/><circle cx="665.1" cy="1324.6" r="5.8"/><circle cx="644.8" cy="1340.8" r="5.8"/><circle cx="654.5" cy="1344" r="5.8"/><circle cx="675.5" cy="1336.9" r="5.8"/><circle cx="685.8" cy="1344.7" r="5.8"/><circle cx="665.1" cy="1349.8" r="5.8"/><circle cx="654.5" cy="1352.1" r="5.8"/><circle cx="675.5" cy="1361.8" r="5.8"/><circle cx="654.5" cy="1368.3" r="5.8"/><circle cx="665.1" cy="1373.1" r="5.8"/><circle cx="654.5" cy="1389.3" r="5.8"/><circle cx="665.1" cy="1389.3" r="5.8"/><circle cx="675.5" cy="1398.3" r="5.8"/><circle cx="654.5" cy="1401.6" r="5.8"/><circle cx="665.1" cy="1422.3" r="5.8"/><circle cx="659.3" cy="1447.5" r="5.8"/><circle cx="670.6" cy="1447.5" r="5.8"/><circle cx="665.1" cy="1476.6" r="5.8"/><path d="M717.2 1438.4h11.7v11.7h-11.7zM736.9 1433.6h11.7v11.7h-11.7zM746.9 1433.6h11.7v11.7h-11.7zM757 1439.7h11.7v11.7h-11.7zM726.6 1450.7h11.7v11.7h-11.7zM742.1 1445.5h11.7v11.7h-11.7zM746.9 1452.3h11.7v11.7h-11.7zM721.7 1460.7h11.7v11.7h-11.7zM742.1 1460.7h11.7v11.7h-11.7zM757 1461.7h11.7v11.7h-11.7zM717.2 1470.8h11.7v11.7h-11.7zM736.9 1473.3h11.7v11.7h-11.7zM746.9 1473.3h11.7v11.7h-11.7zM757 1477.6h11.7v11.7h-11.7z"/><path d="M800.7 1380.2l5.9 11h-11.8zM820.1 1379.2l5.9 11h-11.8zM840.8 1390.2l5.9 11h-11.8zM820.1 1399.2l5.9 11h-11.8zM820.1 1414.4l5.9 11h-11.8zM820.1 1453.9l5.9 11h-11.8zM820.1 1469.1l5.9 11h-11.8zM800.7 1449.7l5.9 11h-11.8zM839.5 1443.9l5.9 11h-11.8zM800.7 1473.3l5.9 11h-11.8zM839.5 1473.3l5.9 11h-11.8z"/><path d="M663.9 1213.4H831.3" stroke="#000" stroke-width="7.2" stroke-linecap="round" fill="none"/><path d="M663.9 1261.5H762.5" stroke="#000" stroke-width="7.2" stroke-linecap="round" fill="none"/><text x="736" y="1207.84" font-size="46.9" stroke="#000" stroke-width="1.34" style="font-family:'DejaVu Sans',sans-serif">*</text><text x="701.07" y="1257" font-size="46.9" stroke="#000" stroke-width="1.34" style="font-family:'DejaVu Sans',sans-serif">*</text><text x="634.82" y="1088.4" font-size="36.8" letter-spacing="-0.609">Lymph Node</text><text transform="translate(464.6 1428.53) rotate(-90)" font-size="32.5" letter-spacing="-0.741">CD8 T cell number</text><text x="636.01" y="1528.36" font-size="29.4" letter-spacing="-0.74">RISP</text><text x="651.28" y="1560.05" font-size="29.4" letter-spacing="-1.535">WT</text><text x="711.37" y="1528.36" font-size="29.4" letter-spacing="-0.74">RISP</text><text x="723.97" y="1560.05" font-size="29.4" letter-spacing="-1.384">KO</text><text x="791.58" y="1528.36" font-size="29.4" letter-spacing="-0.74">RISP</text><text x="788.89" y="1560.05" font-size="29.4" letter-spacing="-0.83">KO+AOX</text></g>
<g><rect x="1047.3" y="1351.1" width="45.2" height="134.6" fill="#666666"/><path d="M1047.3 1485.7V1351.1H1092.5V1485.7" fill="none" stroke="#000" stroke-width="5.8"/><rect x="1124.3" y="1413.2" width="45.2" height="72.5" fill="#d9d9d9"/><path d="M1124.3 1485.7V1413.2H1169.5V1485.7" fill="none" stroke="#000" stroke-width="5.8"/><rect x="1201.9" y="1377.6" width="45.2" height="108" fill="#999999"/><path d="M1201.9 1485.7V1377.6H1247.1V1485.7" fill="none" stroke="#000" stroke-width="5.8"/><path d="M1018.8 1097.7V1487.8M1002.7 1485.7H1275.6" stroke="#000" stroke-width="4.2" fill="none"/><path d="M1002.7 1099.8H1018.8M1002.7 1228.2H1018.8M1002.7 1356.9H1018.8M1069.9 1485.7V1501.7M1146.9 1485.7V1501.7M1224.5 1485.7V1501.7" stroke="#000" stroke-width="4.2" fill="none"/><text x="918.81" y="1112.61" font-size="30" letter-spacing="-0.572">3×10<tspan dy="-10.8" font-size="22.5">7</tspan></text><text x="918.81" y="1241.01" font-size="30" letter-spacing="-0.572">2×10<tspan dy="-10.8" font-size="22.5">7</tspan></text><text x="918.81" y="1369.73" font-size="30" letter-spacing="-0.572">1×10<tspan dy="-10.8" font-size="22.5">7</tspan></text><text x="980.19" y="1498.45" font-size="30" letter-spacing="0">0</text><path d="M1069.6 1337.5V1366M1056.4 1337.5H1082.9M1056.4 1366H1082.9M1146.6 1402.9V1420.7M1133.3 1402.9H1159.9M1133.3 1420.7H1159.9M1224.2 1353.1V1396.4M1211 1353.1H1237.5M1211 1396.4H1237.5" stroke="#000" stroke-width="2.5" fill="none"/><circle cx="1069.6" cy="1142.5" r="5.8"/><circle cx="1069.6" cy="1263.2" r="5.8"/><circle cx="1065.7" cy="1292.3" r="5.8"/><circle cx="1074.5" cy="1295.5" r="5.8"/><circle cx="1074.5" cy="1314.9" r="5.8"/><circle cx="1065.7" cy="1320.7" r="5.8"/><circle cx="1050.2" cy="1338.2" r="5.8"/><circle cx="1065.7" cy="1335.9" r="5.8"/><circle cx="1050.2" cy="1350.5" r="5.8"/><circle cx="1059.9" cy="1352.1" r="5.8"/><circle cx="1074.5" cy="1345.6" r="5.8"/><circle cx="1084.2" cy="1347.2" r="5.8"/><circle cx="1090.6" cy="1352.1" r="5.8"/><circle cx="1055.1" cy="1361.8" r="5.8"/><circle cx="1065.7" cy="1366.6" r="5.8"/><circle cx="1074.5" cy="1358.6" r="5.8"/><circle cx="1069.6" cy="1386.1" r="5.8"/><circle cx="1065.7" cy="1399" r="5.8"/><circle cx="1074.5" cy="1399" r="5.8"/><circle cx="1065.7" cy="1424.9" r="5.8"/><circle cx="1074.5" cy="1423.2" r="5.8"/><circle cx="1069.6" cy="1452.4" r="5.8"/><circle cx="1069.6" cy="1471.1" r="5.8"/><path d="M1145.3 1354.3h11.7v11.7h-11.7zM1137.5 1361.8h11.7v11.7h-11.7zM1128.5 1383.4h11.7v11.7h-11.7zM1145.3 1385.1h11.7v11.7h-11.7zM1121.3 1392.5h11.7v11.7h-11.7zM1161.4 1397h11.7v11.7h-11.7zM1121.3 1409.3h11.7v11.7h-11.7zM1131 1410.9h11.7v11.7h-11.7zM1140.7 1412.5h11.7v11.7h-11.7zM1151.1 1412.5h11.7v11.7h-11.7zM1161.4 1409.3h11.7v11.7h-11.7zM1137.5 1425.5h11.7v11.7h-11.7zM1145.3 1434.2h11.7v11.7h-11.7zM1140.7 1461.1h11.7v11.7h-11.7z"/><path d="M1224.2 1242.7l5.9 11h-11.8zM1224.2 1326.8l5.9 11h-11.8zM1204.8 1355.9l5.9 11h-11.8zM1214.5 1352.7l5.9 11h-11.8zM1234.6 1352.7l5.9 11h-11.8zM1244.3 1355.9l5.9 11h-11.8zM1224.2 1362.4l5.9 11h-11.8zM1224.2 1409.9l5.9 11h-11.8zM1229.1 1466.8l5.9 11h-11.8zM1219 1473.9l5.9 11h-11.8z"/><path d="M1135.6 1234.7H1230.3" stroke="#000" stroke-width="7.2" stroke-linecap="round" fill="none"/><text x="1171.2" y="1229.51" font-size="46.9" stroke="#000" stroke-width="1.34" style="font-family:'DejaVu Sans',sans-serif">*</text><text x="1088.77" y="1089.4" font-size="36.8" letter-spacing="-0.511">Spleen</text><text transform="translate(895.1 1428.93) rotate(-90)" font-size="32.5" letter-spacing="-0.741">CD4 T cell number</text><text x="1045.66" y="1527.71" font-size="29.4" letter-spacing="-0.74">RISP</text><text x="1061.58" y="1559.4" font-size="29.4" letter-spacing="-1.535">WT</text><text x="1121.67" y="1527.71" font-size="29.4" letter-spacing="-0.74">RISP</text><text x="1134.27" y="1559.4" font-size="29.4" letter-spacing="-1.384">KO</text><text x="1201.87" y="1527.71" font-size="29.4" letter-spacing="-0.74">RISP</text><text x="1198.54" y="1559.4" font-size="29.4" letter-spacing="-0.83">KO+AOX</text></g>
<g><rect x="1439.7" y="1384.1" width="45.2" height="103.2" fill="#666666"/><path d="M1439.7 1487.3V1384.1H1484.9V1487.3" fill="none" stroke="#000" stroke-width="5.8"/><rect x="1516.7" y="1458.5" width="45.2" height="28.8" fill="#d9d9d9"/><path d="M1516.7 1487.3V1458.5H1561.9V1487.3" fill="none" stroke="#000" stroke-width="5.8"/><rect x="1594.1" y="1442.3" width="45.2" height="45" fill="#999999"/><path d="M1594.1 1487.3V1442.3H1639.3V1487.3" fill="none" stroke="#000" stroke-width="5.8"/><path d="M1411.2 1098.4V1489.4M1395 1487.3H1668.3" stroke="#000" stroke-width="4.2" fill="none"/><path d="M1395 1100.5H1411.2M1395 1230.2H1411.2M1395 1358.6H1411.2M1462.3 1487.3V1503.3M1539.3 1487.3V1503.3M1616.7 1487.3V1503.3" stroke="#000" stroke-width="4.2" fill="none"/><text x="1311.17" y="1113.26" font-size="30" letter-spacing="-0.572">3×10<tspan dy="-10.8" font-size="22.5">7</tspan></text><text x="1311.17" y="1242.95" font-size="30" letter-spacing="-0.572">2×10<tspan dy="-10.8" font-size="22.5">7</tspan></text><text x="1311.17" y="1371.35" font-size="30" letter-spacing="-0.572">1×10<tspan dy="-10.8" font-size="22.5">7</tspan></text><text x="1372.55" y="1500.07" font-size="30" letter-spacing="0">0</text><path d="M1462.6 1371.5V1390.9M1449.4 1371.5H1475.9M1449.4 1390.9H1475.9M1539.6 1450.7V1463.7M1526.3 1450.7H1552.9M1526.3 1463.7H1552.9M1616.6 1431.3V1448.2M1603.3 1431.3H1629.8M1603.3 1448.2H1629.8" stroke="#000" stroke-width="2.5" fill="none"/><circle cx="1462" cy="1210.4" r="5.8"/><circle cx="1462" cy="1308.4" r="5.8"/><circle cx="1462" cy="1341.4" r="5.8"/><circle cx="1452.3" cy="1358.6" r="5.8"/><circle cx="1483" cy="1357.6" r="5.8"/><circle cx="1441.9" cy="1362.8" r="5.8"/><circle cx="1462" cy="1361.8" r="5.8"/><circle cx="1472.3" cy="1364.4" r="5.8"/><circle cx="1452.3" cy="1370.5" r="5.8"/><circle cx="1483" cy="1369.9" r="5.8"/><circle cx="1472.3" cy="1378" r="5.8"/><circle cx="1483" cy="1382.8" r="5.8"/><circle cx="1441.9" cy="1387.7" r="5.8"/><circle cx="1452.3" cy="1387.7" r="5.8"/><circle cx="1462" cy="1387.7" r="5.8"/><circle cx="1472.3" cy="1387.7" r="5.8"/><circle cx="1441.9" cy="1400.6" r="5.8"/><circle cx="1472.3" cy="1397.4" r="5.8"/><circle cx="1483" cy="1395.8" r="5.8"/><circle cx="1462" cy="1407.7" r="5.8"/><circle cx="1462" cy="1421.6" r="5.8"/><circle cx="1472.3" cy="1435.2" r="5.8"/><circle cx="1462" cy="1443.3" r="5.8"/><circle cx="1462" cy="1454" r="5.8"/><circle cx="1462" cy="1472.4" r="5.8"/><path d="M1533.8 1411.9h11.7v11.7h-11.7zM1533.8 1426.1h11.7v11.7h-11.7zM1513.7 1439.4h11.7v11.7h-11.7zM1547.3 1441.7h11.7v11.7h-11.7zM1524.1 1446.5h11.7v11.7h-11.7zM1537 1448.1h11.7v11.7h-11.7zM1513.7 1451.4h11.7v11.7h-11.7zM1553.2 1454.6h11.7v11.7h-11.7zM1528.9 1457.8h11.7v11.7h-11.7zM1541.8 1461.1h11.7v11.7h-11.7zM1520.8 1464.3h11.7v11.7h-11.7zM1547.3 1470.8h11.7v11.7h-11.7zM1533.8 1454.6h11.7v11.7h-11.7z"/><path d="M1606.6 1401.2l5.9 11h-11.8zM1626.9 1410.9l5.9 11h-11.8zM1596.8 1420.6l5.9 11h-11.8zM1606.6 1421.6l5.9 11h-11.8zM1616.6 1428.7l5.9 11h-11.8zM1626.9 1428.7l5.9 11h-11.8zM1636.6 1420.6l5.9 11h-11.8zM1616.6 1454.5l5.9 11h-11.8zM1621.4 1473.9l5.9 11h-11.8zM1611.7 1480.4l5.9 11h-11.8z"/><path d="M1451.7 1232.4H1643.4" stroke="#000" stroke-width="7.2" stroke-linecap="round" fill="none"/><path d="M1458.5 1278.4H1552.8" stroke="#000" stroke-width="7.2" stroke-linecap="round" fill="none"/><text x="1534.78" y="1227.24" font-size="46.9" stroke="#000" stroke-width="1.34" style="font-family:'DejaVu Sans',sans-serif">*</text><text x="1493.38" y="1273.49" font-size="46.9" stroke="#000" stroke-width="1.34" style="font-family:'DejaVu Sans',sans-serif">*</text><text x="1481.17" y="1089.4" font-size="36.8" letter-spacing="-0.511">Spleen</text><text transform="translate(1288 1430.13) rotate(-90)" font-size="32.5" letter-spacing="-0.741">CD8 T cell number</text><text x="1434.79" y="1527.71" font-size="29.4" letter-spacing="-0.74">RISP</text><text x="1450.38" y="1559.4" font-size="29.4" letter-spacing="-1.535">WT</text><text x="1510.79" y="1527.71" font-size="29.4" letter-spacing="-0.74">RISP</text><text x="1523.4" y="1559.4" font-size="29.4" letter-spacing="-1.384">KO</text><text x="1591" y="1527.71" font-size="29.4" letter-spacing="-0.74">RISP</text><text x="1588.31" y="1559.4" font-size="29.4" letter-spacing="-0.83">KO+AOX</text></g>
<g><rect x="212.5" y="1782.8" width="42.4" height="274.3" fill="#666666"/><path d="M212.5 2057V1782.8H254.9V2057" fill="none" stroke="#000" stroke-width="5.8"/><rect x="284.1" y="1791.5" width="42.4" height="265.5" fill="#d9d9d9"/><path d="M284.1 2057V1791.5H326.5V2057" fill="none" stroke="#000" stroke-width="5.8"/><rect x="355.9" y="1788.3" width="42.4" height="268.8" fill="#999999"/><path d="M355.9 2057V1788.3H398.3V2057" fill="none" stroke="#000" stroke-width="5.8"/><path d="M186.6 1695.9V2059.1M170.4 2057H424.6" stroke="#000" stroke-width="4.2" fill="none"/><path d="M170.4 1698H186.6M170.4 1769.8H186.6M170.4 1842H186.6M170.4 1913.8H186.6M170.4 1985.2H186.6M233.7 2057V2071.5M305.3 2057V2071.5M377.1 2057V2071.5" stroke="#000" stroke-width="4.2" fill="none"/><text x="118.94" y="1708.22" font-size="28.3" letter-spacing="-0.748">100</text><text x="134.14" y="1780.02" font-size="28.3" letter-spacing="-0.992">90</text><text x="134.14" y="1852.14" font-size="28.3" letter-spacing="-0.995">80</text><text x="134.13" y="1923.94" font-size="28.3" letter-spacing="-0.984">70</text><text x="134.14" y="1995.41" font-size="28.3" letter-spacing="-0.99">60</text><text x="134.15" y="2067.21" font-size="28.3" letter-spacing="-0.996">50</text><path d="M233.5 1773.1V1787M220.2 1773.1H246.8M220.2 1787H246.8M305.6 1782.8V1799.3M292.4 1782.8H318.9M292.4 1799.3H318.9M377.1 1779.9V1792.8M363.8 1779.9H390.4M363.8 1792.8H390.4" stroke="#000" stroke-width="2.5" fill="none"/><circle cx="220.6" cy="1744.3" r="5.5"/><circle cx="214.1" cy="1749.1" r="5.5"/><circle cx="232.9" cy="1749.8" r="5.5"/><circle cx="245.8" cy="1753" r="5.5"/><circle cx="252.3" cy="1756.3" r="5.5"/><circle cx="220.6" cy="1757.9" r="5.5"/><circle cx="232.9" cy="1759.5" r="5.5"/><circle cx="239.3" cy="1757.9" r="5.5"/><circle cx="228" cy="1765" r="5.5"/><circle cx="245.8" cy="1764.3" r="5.5"/><circle cx="229.6" cy="1776.6" r="5.5"/><circle cx="223.2" cy="1785.4" r="5.5"/><circle cx="232.9" cy="1785.4" r="5.5"/><circle cx="245.8" cy="1785.4" r="5.5"/><circle cx="239.3" cy="1793.5" r="5.5"/><circle cx="228" cy="1796" r="5.5"/><circle cx="226.4" cy="1823.5" r="5.5"/><circle cx="239.3" cy="1826.4" r="5.5"/><circle cx="232.9" cy="1830.6" r="5.5"/><circle cx="233.5" cy="1864.6" r="5.5"/><path d="M293.7 1752.4h10.9v10.9h-10.9zM305.7 1754h10.9v10.9h-10.9zM280.8 1765.4h10.9v10.9h-10.9zM318 1762.1h10.9v10.9h-10.9zM305.7 1768h10.9v10.9h-10.9zM293.7 1771.2h10.9v10.9h-10.9zM300.2 1781.5h10.9v10.9h-10.9zM305.7 1781.5h10.9v10.9h-10.9zM300.2 1800.9h10.9v10.9h-10.9zM300.2 1827.8h10.9v10.9h-10.9zM300.2 1895.7h10.9v10.9h-10.9z"/><path d="M358.3 1761.1l5.5 10.3h-11zM377.1 1756.2l5.5 10.3h-11zM396.2 1761.1l5.5 10.3h-11zM368 1765.3l5.5 10.3h-11zM386.5 1763.6l5.5 10.3h-11zM358.3 1773.4l5.5 10.3h-11zM377.1 1768.5l5.5 10.3h-11zM368 1778.2l5.5 10.3h-11zM377.1 1784.7l5.5 10.3h-11zM386.5 1804.7l5.5 10.3h-11zM377.1 1809.9l5.5 10.3h-11zM377.1 1839l5.5 10.3h-11z"/><text x="202.27" y="1629.6" font-size="35.3" letter-spacing="-0.567">Lymph Node</text><text transform="translate(102.3 1984.93) rotate(-90)" font-size="30" letter-spacing="-0.633">CD4<tspan dy="-10.5" font-size="22.5">+</tspan><tspan dy="10.5">, % CD44</tspan><tspan dy="-10.5" font-size="22.5">lo</tspan></text><text x="198.55" y="2098.43" font-size="29.4" letter-spacing="-0.74">RISP</text><text x="214.14" y="2130.45" font-size="29.4" letter-spacing="-1.535">WT</text><text x="274.23" y="2098.43" font-size="29.4" letter-spacing="-0.74">RISP</text><text x="286.51" y="2130.45" font-size="29.4" letter-spacing="-1.384">KO</text><text x="354.44" y="2098.43" font-size="29.4" letter-spacing="-0.74">RISP</text><text x="351.75" y="2130.45" font-size="29.4" letter-spacing="-0.83">KO+AOX</text></g>
<g><rect x="574.5" y="1823.8" width="42.4" height="233.2" fill="#666666"/><path d="M574.5 2057V1823.8H616.9V2057" fill="none" stroke="#000" stroke-width="5.8"/><rect x="646.4" y="1932.2" width="42.4" height="124.8" fill="#d9d9d9"/><path d="M646.4 2057V1932.2H688.8V2057" fill="none" stroke="#000" stroke-width="5.8"/><rect x="718.2" y="1868.2" width="42.4" height="188.9" fill="#999999"/><path d="M718.2 2057V1868.2H760.6V2057" fill="none" stroke="#000" stroke-width="5.8"/><path d="M548.1 1695.9V2059.1M532.6 2057H787.1" stroke="#000" stroke-width="4.2" fill="none"/><path d="M532.6 1698H548.1M532.6 1769.8H548.1M532.6 1842H548.1M532.6 1913.8H548.1M532.6 1985.2H548.1M595.7 2057V2071.5M667.6 2057V2071.5M739.4 2057V2071.5" stroke="#000" stroke-width="4.2" fill="none"/><text x="481.1" y="1708.22" font-size="28.3" letter-spacing="-0.748">100</text><text x="496.3" y="1780.02" font-size="28.3" letter-spacing="-0.992">90</text><text x="496.31" y="1852.14" font-size="28.3" letter-spacing="-0.995">80</text><text x="496.29" y="1923.94" font-size="28.3" letter-spacing="-0.984">70</text><text x="496.3" y="1995.41" font-size="28.3" letter-spacing="-0.99">60</text><text x="496.31" y="2067.21" font-size="28.3" letter-spacing="-0.996">50</text><path d="M595.3 1810.3V1833.9M582.1 1810.3H608.6M582.1 1833.9H608.6M667.5 1899.2V1961M654.2 1899.2H680.7M654.2 1961H680.7M738.9 1850.1V1881.4M725.7 1850.1H752.2M725.7 1881.4H752.2" stroke="#000" stroke-width="2.5" fill="none"/><circle cx="587.6" cy="1730.4" r="5.5"/><circle cx="593.1" cy="1728.8" r="5.5"/><circle cx="597.9" cy="1737.8" r="5.5"/><circle cx="595" cy="1763.4" r="5.5"/><circle cx="595" cy="1793.5" r="5.5"/><circle cx="597.9" cy="1792.8" r="5.5"/><circle cx="597.9" cy="1804.1" r="5.5"/><circle cx="593.1" cy="1814.5" r="5.5"/><circle cx="595" cy="1827.4" r="5.5"/><circle cx="587.6" cy="1835.5" r="5.5"/><circle cx="603.8" cy="1833.9" r="5.5"/><circle cx="577.2" cy="1845.2" r="5.5"/><circle cx="587.6" cy="1845.2" r="5.5"/><circle cx="603.8" cy="1842" r="5.5"/><circle cx="611.8" cy="1843.6" r="5.5"/><circle cx="593.1" cy="1853.3" r="5.5"/><circle cx="595" cy="1885.6" r="5.5"/><circle cx="595" cy="1957.4" r="5.5"/><path d="M662 1817.1h10.9v10.9h-10.9zM643.6 1825.2h10.9v10.9h-10.9zM662 1827.8h10.9v10.9h-10.9zM680.8 1825.2h10.9v10.9h-10.9zM643.6 1835.9h10.9v10.9h-10.9zM662 1847.8h10.9v10.9h-10.9zM662 1894.7h10.9v10.9h-10.9zM662 1915.1h10.9v10.9h-10.9zM662 1947.4h10.9v10.9h-10.9zM662 1969.1h10.9v10.9h-10.9zM652.3 1990.8h10.9v10.9h-10.9zM671.7 1994.3h10.9v10.9h-10.9zM662 2005.7h10.9v10.9h-10.9z"/><path d="M738.9 1793.7l5.5 10.3h-11zM721.2 1823.5l5.5 10.3h-11zM733.1 1821.2l5.5 10.3h-11zM745.4 1828.3l5.5 10.3h-11zM733.1 1832.5l5.5 10.3h-11zM721.2 1838l5.5 10.3h-11zM757.4 1836.4l5.5 10.3h-11zM738.9 1855.8l5.5 10.3h-11zM745.4 1859.1l5.5 10.3h-11zM738.9 1875.9l5.5 10.3h-11zM733.1 1907.6l5.5 10.3h-11zM745.4 1917.3l5.5 10.3h-11zM738.9 2003l5.5 10.3h-11z"/><path d="M595.3 1706.9V1685.1H667.5V1706.9" stroke="#000" stroke-width="3.4" stroke-linecap="round" fill="none"/><text x="621.43" y="1681.25" font-size="40" stroke="#000" stroke-width="1.28" style="font-family:'DejaVu Sans',sans-serif">*</text><text x="563.57" y="1629.6" font-size="35.3" letter-spacing="-0.567">Lymph Node</text><text transform="translate(464.6 1984.43) rotate(-90)" font-size="30" letter-spacing="-0.648">CD8<tspan dy="-10.5" font-size="22.5">+</tspan><tspan dy="10.5">, % CD44</tspan><tspan dy="-10.5" font-size="22.5">lo</tspan></text><text x="562" y="2098.43" font-size="29.4" letter-spacing="-0.74">RISP</text><text x="577.59" y="2130.45" font-size="29.4" letter-spacing="-1.535">WT</text><text x="637.04" y="2098.43" font-size="29.4" letter-spacing="-0.74">RISP</text><text x="649.96" y="2130.45" font-size="29.4" letter-spacing="-1.384">KO</text><text x="717.24" y="2098.43" font-size="29.4" letter-spacing="-0.74">RISP</text><text x="714.56" y="2130.45" font-size="29.4" letter-spacing="-0.83">KO+AOX</text></g>
<g><rect x="935.6" y="1826.4" width="42.4" height="242.9" fill="#666666"/><path d="M935.6 2069.3V1826.4H978V2069.3" fill="none" stroke="#000" stroke-width="5.8"/><rect x="1007.5" y="1830.3" width="42.4" height="239" fill="#d9d9d9"/><path d="M1007.5 2069.3V1830.3H1049.9V2069.3" fill="none" stroke="#000" stroke-width="5.8"/><rect x="1079.5" y="1840.7" width="42.4" height="228.7" fill="#999999"/><path d="M1079.5 2069.3V1840.7H1121.9V2069.3" fill="none" stroke="#000" stroke-width="5.8"/><path d="M909.1 1708.2V2071.4M893.5 2069.3H1148.4" stroke="#000" stroke-width="4.2" fill="none"/><path d="M893.5 1710.3H909.1M893.5 1782.1H909.1M893.5 1854.3H909.1M893.5 1926.1H909.1M893.5 1997.9H909.1M956.8 2069.3V2083.8M1028.7 2069.3V2083.8M1100.7 2069.3V2083.8" stroke="#000" stroke-width="4.2" fill="none"/><text x="842.04" y="1720.51" font-size="28.3" letter-spacing="-0.748">100</text><text x="857.25" y="1792.31" font-size="28.3" letter-spacing="-0.992">90</text><text x="857.25" y="1864.43" font-size="28.3" letter-spacing="-0.995">80</text><text x="857.24" y="1936.23" font-size="28.3" letter-spacing="-0.984">70</text><text x="857.24" y="2008.03" font-size="28.3" letter-spacing="-0.99">60</text><text x="857.25" y="2079.5" font-size="28.3" letter-spacing="-0.996">50</text><path d="M956.6 1815.4V1833.2M943.4 1815.4H969.9M943.4 1833.2H969.9M1028.7 1812.9V1842.9M1015.5 1812.9H1042M1015.5 1842.9H1042M1100.5 1827.4V1848.4M1087.3 1827.4H1113.8M1087.3 1848.4H1113.8" stroke="#000" stroke-width="2.5" fill="none"/><circle cx="956.6" cy="1749.8" r="5.5"/><circle cx="956.6" cy="1762.1" r="5.5"/><circle cx="952.7" cy="1786.3" r="5.5"/><circle cx="944.6" cy="1791.2" r="5.5"/><circle cx="952.7" cy="1796.7" r="5.5"/><circle cx="938.2" cy="1806.4" r="5.5"/><circle cx="944.6" cy="1803.2" r="5.5"/><circle cx="960.8" cy="1804.8" r="5.5"/><circle cx="967.9" cy="1806.4" r="5.5"/><circle cx="975.4" cy="1802.5" r="5.5"/><circle cx="952.7" cy="1812.2" r="5.5"/><circle cx="960.8" cy="1820" r="5.5"/><circle cx="952.7" cy="1824.2" r="5.5"/><circle cx="944.6" cy="1828.4" r="5.5"/><circle cx="952.7" cy="1838.7" r="5.5"/><circle cx="967.9" cy="1859.8" r="5.5"/><circle cx="952.7" cy="1866.2" r="5.5"/><circle cx="960.8" cy="1867.2" r="5.5"/><circle cx="952.7" cy="1877.5" r="5.5"/><circle cx="960.8" cy="1882.4" r="5.5"/><circle cx="956.6" cy="1917" r="5.5"/><path d="M1023.3 1753.4h10.9v10.9h-10.9zM1023.3 1774.4h10.9v10.9h-10.9zM1004.5 1790.6h10.9v10.9h-10.9zM1023.3 1789.6h10.9v10.9h-10.9zM1042 1791.9h10.9v10.9h-10.9zM1023.3 1802.6h10.9v10.9h-10.9zM1042 1802.6h10.9v10.9h-10.9zM1004.5 1813.9h10.9v10.9h-10.9zM1042 1817.1h10.9v10.9h-10.9zM1023.3 1822.9h10.9v10.9h-10.9zM1004.5 1826.2h10.9v10.9h-10.9zM1042 1833.3h10.9v10.9h-10.9zM1023.3 1932.9h10.9v10.9h-10.9zM1023.3 1957.8h10.9v10.9h-10.9z"/><path d="M1090.2 1787.3l5.5 10.3h-11zM1111.8 1792.8l5.5 10.3h-11zM1090.2 1798.3l5.5 10.3h-11zM1111.8 1805.7l5.5 10.3h-11zM1090.2 1815.4l5.5 10.3h-11zM1090.2 1828.3l5.5 10.3h-11zM1111.8 1829.9l5.5 10.3h-11zM1090.2 1848.7l5.5 10.3h-11zM1111.8 1857.4l5.5 10.3h-11zM1100.5 1868.1l5.5 10.3h-11zM1100.5 1879.1l5.5 10.3h-11zM1100.5 1898.5l5.5 10.3h-11z"/><text x="973.36" y="1629.6" font-size="35.3" letter-spacing="-0.774">Spleen</text><text transform="translate(825.9 1997.23) rotate(-90)" font-size="30" letter-spacing="-0.633">CD4<tspan dy="-10.5" font-size="22.5">+</tspan><tspan dy="10.5">, % CD44</tspan><tspan dy="-10.5" font-size="22.5">lo</tspan></text><text x="925.54" y="2110.4" font-size="29.4" letter-spacing="-0.74">RISP</text><text x="941.12" y="2142.74" font-size="29.4" letter-spacing="-1.535">WT</text><text x="1000.57" y="2110.4" font-size="29.4" letter-spacing="-0.74">RISP</text><text x="1013.49" y="2142.74" font-size="29.4" letter-spacing="-1.384">KO</text><text x="1081.42" y="2110.4" font-size="29.4" letter-spacing="-0.74">RISP</text><text x="1078.41" y="2142.74" font-size="29.4" letter-spacing="-0.83">KO+AOX</text></g>
<g><rect x="1302.5" y="1879.5" width="42.4" height="189.9" fill="#666666"/><path d="M1302.5 2069.3V1879.5H1344.9V2069.3" fill="none" stroke="#000" stroke-width="5.8"/><rect x="1374.6" y="2033.1" width="42.4" height="36.2" fill="#d9d9d9"/><path d="M1374.6 2069.3V2033.1H1417V2069.3" fill="none" stroke="#000" stroke-width="5.8"/><rect x="1446.3" y="1939.6" width="42.4" height="129.7" fill="#999999"/><path d="M1446.3 2069.3V1939.6H1488.7V2069.3" fill="none" stroke="#000" stroke-width="5.8"/><path d="M1275.8 1708.2V2071.4M1260.3 2069.3H1515.2" stroke="#000" stroke-width="4.2" fill="none"/><path d="M1260.3 1710.3H1275.8M1260.3 1782.1H1275.8M1260.3 1854.3H1275.8M1260.3 1926.1H1275.8M1260.3 1997.9H1275.8M1323.7 2069.3V2083.8M1395.8 2069.3V2083.8M1467.5 2069.3V2083.8" stroke="#000" stroke-width="4.2" fill="none"/><text x="1208.81" y="1720.51" font-size="28.3" letter-spacing="-0.748">100</text><text x="1224.01" y="1792.31" font-size="28.3" letter-spacing="-0.992">90</text><text x="1224.02" y="1864.43" font-size="28.3" letter-spacing="-0.995">80</text><text x="1224" y="1936.23" font-size="28.3" letter-spacing="-0.984">70</text><text x="1224.01" y="2008.03" font-size="28.3" letter-spacing="-0.99">60</text><text x="1224.02" y="2079.5" font-size="28.3" letter-spacing="-0.996">50</text><path d="M1323.7 1865.3V1889.5M1310.4 1865.3H1337M1310.4 1889.5H1337M1395.8 2000.4V2060.9M1382.6 2000.4H1409.1M1382.6 2060.9H1409.1M1467.6 1913.8V1961M1454.4 1913.8H1480.9M1454.4 1961H1480.9" stroke="#000" stroke-width="2.5" fill="none"/><circle cx="1323.7" cy="1760.5" r="5.5"/><circle cx="1323.7" cy="1789.6" r="5.5"/><circle cx="1318.8" cy="1804.8" r="5.5"/><circle cx="1328.2" cy="1805.7" r="5.5"/><circle cx="1333.1" cy="1817.1" r="5.5"/><circle cx="1323.7" cy="1826.8" r="5.5"/><circle cx="1323.7" cy="1858.8" r="5.5"/><circle cx="1314.6" cy="1870.1" r="5.5"/><circle cx="1323.7" cy="1880.1" r="5.5"/><circle cx="1314.6" cy="1889.8" r="5.5"/><circle cx="1323.7" cy="1904.4" r="5.5"/><circle cx="1333.1" cy="1900.8" r="5.5"/><circle cx="1304.9" cy="1909.9" r="5.5"/><circle cx="1342.1" cy="1906.6" r="5.5"/><circle cx="1323.7" cy="1916.4" r="5.5"/><circle cx="1333.1" cy="1913.1" r="5.5"/><circle cx="1314.6" cy="1919.6" r="5.5"/><circle cx="1323.7" cy="1929.3" r="5.5"/><circle cx="1333.1" cy="1928.6" r="5.5"/><circle cx="1333.1" cy="1940" r="5.5"/><circle cx="1314.6" cy="1948.7" r="5.5"/><path d="M1390.4 1877.6h10.9v10.9h-10.9zM1371.6 1919.6h10.9v10.9h-10.9zM1390.4 1927.1h10.9v10.9h-10.9zM1409.1 1923.8h10.9v10.9h-10.9zM1390.4 1943.2h10.9v10.9h-10.9zM1390.4 1979.8h10.9v10.9h-10.9zM1381 1997.6h10.9v10.9h-10.9zM1399.8 2004.7h10.9v10.9h-10.9zM1390.4 2049.3h10.9v10.9h-10.9z"/><path d="M1448.9 1849.4l5.5 10.3h-11zM1467.6 1857.4l5.5 10.3h-11zM1448.9 1872l5.5 10.3h-11zM1486.7 1869.4l5.5 10.3h-11zM1486.7 1880.1l5.5 10.3h-11zM1467.6 1897.2l5.5 10.3h-11zM1467.6 1923.1l5.5 10.3h-11zM1467.6 1960.9l5.5 10.3h-11zM1477 2024l5.5 10.3h-11zM1458.2 2032.1l5.5 10.3h-11z"/><path d="M1323.7 1744.8V1722.9H1395.8V1744.8" stroke="#000" stroke-width="3.4" stroke-linecap="round" fill="none"/><path d="M1395.8 1827.6V1805.4H1467.6V1827.6" stroke="#000" stroke-width="3.4" stroke-linecap="round" fill="none"/><text x="1349.46" y="1720.06" font-size="40" stroke="#000" stroke-width="1.28" style="font-family:'DejaVu Sans',sans-serif">*</text><text x="1421.58" y="1801.56" font-size="40" stroke="#000" stroke-width="1.28" style="font-family:'DejaVu Sans',sans-serif">*</text><text x="1340.16" y="1629.6" font-size="35.3" letter-spacing="-0.774">Spleen</text><text transform="translate(1192.8 1997.23) rotate(-90)" font-size="30" letter-spacing="-0.633">CD8<tspan dy="-10.5" font-size="22.5">+</tspan><tspan dy="10.5">, % CD44</tspan><tspan dy="-10.5" font-size="22.5">lo</tspan></text><text x="1291.65" y="2107.81" font-size="29.4" letter-spacing="-0.74">RISP</text><text x="1307.24" y="2140.16" font-size="29.4" letter-spacing="-1.535">WT</text><text x="1367.33" y="2107.81" font-size="29.4" letter-spacing="-0.74">RISP</text><text x="1379.61" y="2140.16" font-size="29.4" letter-spacing="-1.384">KO</text><text x="1447.54" y="2107.81" font-size="29.4" letter-spacing="-0.74">RISP</text><text x="1444.21" y="2140.16" font-size="29.4" letter-spacing="-0.83">KO+AOX</text></g>
<g><rect x="207.8" y="2503.1" width="48.9" height="124.8" fill="#666666"/><path d="M207.8 2628V2503.1H256.7V2628" fill="none" stroke="#000" stroke-width="5.8"/><rect x="290.9" y="2466.3" width="48.9" height="161.7" fill="#d9d9d9"/><path d="M290.9 2628V2466.3H339.8V2628" fill="none" stroke="#000" stroke-width="5.8"/><rect x="373.7" y="2496.7" width="48.9" height="131.3" fill="#999999"/><path d="M373.7 2628V2496.7H422.6V2628" fill="none" stroke="#000" stroke-width="5.8"/><path d="M178.5 2281.8V2630.1M162.7 2628H453.8" stroke="#000" stroke-width="4.2" fill="none"/><path d="M162.7 2283.9H178.5M162.7 2353.1H178.5M162.7 2422H178.5M162.7 2490.5H178.5M162.7 2559.4H178.5M232.2 2628V2642.4M315.3 2628V2642.4M398.1 2628V2642.4" stroke="#000" stroke-width="4.2" fill="none"/><text x="126.57" y="2295.16" font-size="27.7" letter-spacing="-0.986">25</text><text x="126.92" y="2364.37" font-size="27.7" letter-spacing="-0.974">20</text><text x="126.54" y="2433.26" font-size="27.7" letter-spacing="-0.96">15</text><text x="126.89" y="2501.82" font-size="27.7" letter-spacing="-0.947">10</text><text x="141" y="2570.71" font-size="27.7" letter-spacing="0">5</text><text x="141.37" y="2639.28" font-size="27.7" letter-spacing="0">0</text><path d="M232.2 2472.1V2528.7M219 2472.1H245.5M219 2528.7H245.5M315.3 2435.9V2490.5M302.1 2435.9H328.6M302.1 2490.5H328.6M398.4 2475.3V2511.6M385.2 2475.3H411.7M385.2 2511.6H411.7" stroke="#000" stroke-width="2.5" fill="none"/><circle cx="232.2" cy="2313" r="5.5"/><circle cx="232.2" cy="2494.1" r="5.5"/><circle cx="221.5" cy="2512.5" r="5.5"/><circle cx="242.6" cy="2510.3" r="5.5"/><circle cx="221.5" cy="2529.7" r="5.5"/><circle cx="242.6" cy="2527.1" r="5.5"/><circle cx="242.6" cy="2555.2" r="5.5"/><circle cx="221.5" cy="2562" r="5.5"/><path d="M309.9 2343.1h10.9v10.9h-10.9zM309.9 2402.9h10.9v10.9h-10.9zM309.9 2413.9h10.9v10.9h-10.9zM320.6 2487h10.9v10.9h-10.9zM299.2 2495.8h10.9v10.9h-10.9zM309.9 2524.9h10.9v10.9h-10.9zM309.9 2536.8h10.9v10.9h-10.9z"/><path d="M398.4 2433.2l5.5 10.3h-11zM398.4 2458.5l5.5 10.3h-11zM409.1 2482.1l5.5 10.3h-11zM387.5 2491.8l5.5 10.3h-11zM398.4 2505.4l5.5 10.3h-11zM398.4 2562.9l5.5 10.3h-11z"/><text x="136.53" y="2222.9" font-size="32.9" letter-spacing="-0.079">Lymph Node Apoptotic</text><text x="195.19" y="2261.8" font-size="32.9" letter-spacing="-0.116">(total precursor)</text><text transform="translate(119.4 2639.91) rotate(-90)" font-size="34.4" letter-spacing="-1.003">CD4+, %Annexin V+, PI-</text><text x="200.17" y="2668.41" font-size="29.4" letter-spacing="-0.74">RISP</text><text x="215.76" y="2700.75" font-size="29.4" letter-spacing="-1.535">WT</text><text x="283.93" y="2668.41" font-size="29.4" letter-spacing="-0.74">RISP</text><text x="296.21" y="2700.75" font-size="29.4" letter-spacing="-1.384">KO</text><text x="368.02" y="2668.41" font-size="29.4" letter-spacing="-0.74">RISP</text><text x="365.01" y="2700.75" font-size="29.4" letter-spacing="-0.83">KO+AOX</text></g>
<g><rect x="610.6" y="2562.3" width="48.9" height="63.4" fill="#666666"/><path d="M610.6 2625.7V2562.3H659.5V2625.7" fill="none" stroke="#000" stroke-width="5.8"/><rect x="684.4" y="2518" width="48.9" height="107.7" fill="#d9d9d9"/><path d="M684.4 2625.7V2518H733.3V2625.7" fill="none" stroke="#000" stroke-width="5.8"/><rect x="758.4" y="2573.6" width="48.9" height="52.1" fill="#999999"/><path d="M758.4 2625.7V2573.6H807.3V2625.7" fill="none" stroke="#000" stroke-width="5.8"/><path d="M586.6 2279.2V2627.8M571 2625.7H832.4" stroke="#000" stroke-width="4.2" fill="none"/><path d="M571 2281.3H586.6M571 2350.2H586.6M571 2418.7H586.6M571 2487.6H586.6M571 2556.8H586.6M635.1 2625.7V2640.1M708.8 2625.7V2640.1M782.9 2625.7V2640.1" stroke="#000" stroke-width="4.2" fill="none"/><text x="535.25" y="2292.58" font-size="27.7" letter-spacing="-0.947">10</text><text x="549.44" y="2361.46" font-size="27.7" letter-spacing="0">8</text><text x="549.58" y="2430.03" font-size="27.7" letter-spacing="0">6</text><text x="548.75" y="2498.91" font-size="27.7" letter-spacing="0">4</text><text x="549.69" y="2568.12" font-size="27.7" letter-spacing="0">2</text><text x="549.72" y="2637.01" font-size="27.7" letter-spacing="0">0</text><path d="M635.1 2543.9V2576.2M621.8 2543.9H648.3M621.8 2576.2H648.3M708.8 2487.6V2543.9M695.5 2487.6H722.1M695.5 2543.9H722.1M782.9 2562.7V2580.4M769.6 2562.7H796.1M769.6 2580.4H796.1" stroke="#000" stroke-width="2.5" fill="none"/><circle cx="635.1" cy="2453.3" r="5.5"/><circle cx="635.1" cy="2556.2" r="5.5"/><circle cx="615.7" cy="2563.3" r="5.5"/><circle cx="654.5" cy="2560.1" r="5.5"/><circle cx="615.7" cy="2580.4" r="5.5"/><circle cx="654.5" cy="2580.4" r="5.5"/><circle cx="635.1" cy="2586.9" r="5.5"/><circle cx="635.1" cy="2598.9" r="5.5"/><path d="M703.4 2357.7h10.9v10.9h-10.9zM713.7 2494.1h10.9v10.9h-10.9zM692.7 2503.8h10.9v10.9h-10.9zM703.4 2524.2h10.9v10.9h-10.9zM692.7 2552.4h10.9v10.9h-10.9zM713.7 2557.2h10.9v10.9h-10.9zM703.4 2586.3h10.9v10.9h-10.9z"/><path d="M782.9 2537.1l5.5 10.3h-11zM782.9 2554.5l5.5 10.3h-11zM763.5 2562l5.5 10.3h-11zM802.3 2562l5.5 10.3h-11zM782.9 2579.7l5.5 10.3h-11zM782.9 2600.8l5.5 10.3h-11z"/><text x="529.93" y="2222.9" font-size="32.9" letter-spacing="-0.079">Lymph Node Apoptotic</text><text x="583.39" y="2261.8" font-size="32.9" letter-spacing="-0.116">(total precursor)</text><text transform="translate(528.3 2637.51) rotate(-90)" font-size="34.4" letter-spacing="-1.003">CD8+, %Annexin V+, PI-</text><text x="603.03" y="2666.14" font-size="29.4" letter-spacing="-0.74">RISP</text><text x="618.62" y="2698.49" font-size="29.4" letter-spacing="-1.535">WT</text><text x="686.47" y="2666.14" font-size="29.4" letter-spacing="-0.74">RISP</text><text x="699.07" y="2698.49" font-size="29.4" letter-spacing="-1.384">KO</text><text x="770.23" y="2666.14" font-size="29.4" letter-spacing="-0.74">RISP</text><text x="767.87" y="2698.49" font-size="29.4" letter-spacing="-0.83">KO+AOX</text></g>
<g><rect x="1001.5" y="2446.9" width="48.9" height="178.9" fill="#666666"/><path d="M1001.5 2625.7V2446.9H1050.4V2625.7" fill="none" stroke="#000" stroke-width="5.8"/><rect x="1084.6" y="2462.7" width="48.9" height="163" fill="#d9d9d9"/><path d="M1084.6 2625.7V2462.7H1133.5V2625.7" fill="none" stroke="#000" stroke-width="5.8"/><rect x="1167.4" y="2435.5" width="48.9" height="190.2" fill="#999999"/><path d="M1167.4 2625.7V2435.5H1216.3V2625.7" fill="none" stroke="#000" stroke-width="5.8"/><path d="M971.6 2279.2V2627.8M955.8 2625.7H1247.5" stroke="#000" stroke-width="4.2" fill="none"/><path d="M955.8 2281.3H971.6M955.8 2396.1H971.6M955.8 2510.9H971.6M1026 2625.7V2640.1M1109.1 2625.7V2640.1M1191.9 2625.7V2640.1" stroke="#000" stroke-width="4.2" fill="none"/><text x="919.65" y="2292.58" font-size="27.7" letter-spacing="-0.96">15</text><text x="919.99" y="2407.39" font-size="27.7" letter-spacing="-0.947">10</text><text x="934.11" y="2522.2" font-size="27.7" letter-spacing="0">5</text><text x="934.47" y="2637.01" font-size="27.7" letter-spacing="0">0</text><path d="M1026 2415.5V2473.7M1012.7 2415.5H1039.2M1012.7 2473.7H1039.2M1109.1 2440.4V2481.8M1095.8 2440.4H1122.3M1095.8 2481.8H1122.3M1192.5 2405.8V2460.8M1179.3 2405.8H1205.8M1179.3 2460.8H1205.8" stroke="#000" stroke-width="2.5" fill="none"/><circle cx="1026" cy="2322.7" r="5.5"/><circle cx="1026" cy="2348.2" r="5.5"/><circle cx="1026" cy="2398.4" r="5.5"/><circle cx="1026" cy="2438.8" r="5.5"/><circle cx="1026" cy="2482.8" r="5.5"/><circle cx="1026" cy="2494.1" r="5.5"/><circle cx="1026" cy="2520.6" r="5.5"/><circle cx="1026" cy="2551.3" r="5.5"/><path d="M1103.6 2377.1h10.9v10.9h-10.9zM1103.6 2396.1h10.9v10.9h-10.9zM1103.6 2438.5h10.9v10.9h-10.9zM1093.3 2481.2h10.9v10.9h-10.9zM1113.3 2478.9h10.9v10.9h-10.9zM1113.3 2490.9h10.9v10.9h-10.9zM1103.6 2524.9h10.9v10.9h-10.9z"/><path d="M1192.5 2356.6l5.5 10.3h-11zM1192.5 2377.6l5.5 10.3h-11zM1182.2 2411.6l5.5 10.3h-11zM1202.9 2406.1l5.5 10.3h-11zM1192.5 2490.8l5.5 10.3h-11zM1192.5 2528l5.5 10.3h-11z"/><text x="976.58" y="2210.3" font-size="32.9" letter-spacing="-0.147">Spleen Apoptotic</text><text x="983.29" y="2248.8" font-size="32.9" letter-spacing="-0.116">(total precursor)</text><text transform="translate(912.3 2637.51) rotate(-90)" font-size="34.4" letter-spacing="-1.003">CD4+, %Annexin V+, PI-</text><text x="999.42" y="2666.14" font-size="29.4" letter-spacing="-0.74">RISP</text><text x="1014.68" y="2698.49" font-size="29.4" letter-spacing="-1.535">WT</text><text x="1083.5" y="2666.14" font-size="29.4" letter-spacing="-0.74">RISP</text><text x="1095.78" y="2698.49" font-size="29.4" letter-spacing="-1.384">KO</text><text x="1167.59" y="2666.14" font-size="29.4" letter-spacing="-0.74">RISP</text><text x="1164.58" y="2698.49" font-size="29.4" letter-spacing="-0.83">KO+AOX</text></g>
<g><rect x="1425.6" y="2572.7" width="48.9" height="50.8" fill="#666666"/><path d="M1425.6 2623.5V2572.7H1474.5V2623.5" fill="none" stroke="#000" stroke-width="5.8"/><rect x="1507.4" y="2492.8" width="48.9" height="130.7" fill="#d9d9d9"/><path d="M1507.4 2623.5V2492.8H1556.3V2623.5" fill="none" stroke="#000" stroke-width="5.8"/><rect x="1589.2" y="2507.3" width="48.9" height="116.1" fill="#999999"/><path d="M1589.2 2623.5V2507.3H1638.1V2623.5" fill="none" stroke="#000" stroke-width="5.8"/><path d="M1396.3 2277.6V2625.6M1380.5 2623.5H1669" stroke="#000" stroke-width="4.2" fill="none"/><path d="M1380.5 2279.7H1396.3M1380.5 2365.4H1396.3M1380.5 2451.7H1396.3M1380.5 2537.4H1396.3M1450 2623.5V2637.9M1531.8 2623.5V2637.9M1613.7 2623.5V2637.9" stroke="#000" stroke-width="4.2" fill="none"/><text x="1344.72" y="2290.96" font-size="27.7" letter-spacing="-0.974">20</text><text x="1344.35" y="2376.66" font-size="27.7" letter-spacing="-0.96">15</text><text x="1344.7" y="2463.01" font-size="27.7" letter-spacing="-0.947">10</text><text x="1358.81" y="2548.72" font-size="27.7" letter-spacing="0">5</text><text x="1359.17" y="2634.75" font-size="27.7" letter-spacing="0">0</text><path d="M1450 2556.2V2583.7M1436.8 2556.2H1463.3M1436.8 2583.7H1463.3M1532.2 2462.4V2518.3M1518.9 2462.4H1545.4M1518.9 2518.3H1545.4M1614 2471.4V2538.4M1600.7 2471.4H1627.3M1600.7 2538.4H1627.3" stroke="#000" stroke-width="2.5" fill="none"/><circle cx="1450" cy="2506.1" r="5.5"/><circle cx="1450" cy="2521.3" r="5.5"/><circle cx="1450" cy="2555.5" r="5.5"/><circle cx="1450" cy="2574" r="5.5"/><circle cx="1442.6" cy="2596" r="5.5"/><circle cx="1428" cy="2604.7" r="5.5"/><circle cx="1457.1" cy="2603.1" r="5.5"/><circle cx="1471.7" cy="2602.4" r="5.5"/><path d="M1526.7 2332.4h10.9v10.9h-10.9zM1526.7 2457.6h10.9v10.9h-10.9zM1526.7 2484.4h10.9v10.9h-10.9zM1526.7 2502.2h10.9v10.9h-10.9zM1505 2542.6h10.9v10.9h-10.9zM1526.7 2537.8h10.9v10.9h-10.9zM1548.7 2538.4h10.9v10.9h-10.9z"/><path d="M1614 2389.6l5.5 10.3h-11zM1614 2401.9l5.5 10.3h-11zM1614 2529.6l5.5 10.3h-11zM1614 2546.8l5.5 10.3h-11zM1614 2558.7l5.5 10.3h-11zM1614 2573.3l5.5 10.3h-11z"/><text x="1399.18" y="2217.7" font-size="32.9" letter-spacing="-0.147">Spleen Apoptotic</text><text x="1406.19" y="2256.5" font-size="32.9" letter-spacing="-0.116">(total precursor)</text><text transform="translate(1337.7 2635.61) rotate(-90)" font-size="34.4" letter-spacing="-1.003">CD8+, %Annexin V+, PI-</text><text x="1420.88" y="2662.26" font-size="29.4" letter-spacing="-0.74">RISP</text><text x="1436.15" y="2694.61" font-size="29.4" letter-spacing="-1.535">WT</text><text x="1504.97" y="2662.26" font-size="29.4" letter-spacing="-0.74">RISP</text><text x="1517.25" y="2694.61" font-size="29.4" letter-spacing="-1.384">KO</text><text x="1589.06" y="2662.26" font-size="29.4" letter-spacing="-0.74">RISP</text><text x="1585.73" y="2694.61" font-size="29.4" letter-spacing="-0.83">KO+AOX</text></g>
<text x="-0.8" y="22.6" font-size="41" style="font-weight:bold;fill:#231f20">a</text>
<text x="-0.8" y="547.7" font-size="41" style="font-weight:bold;fill:#231f20">b</text>
<text x="858.2" y="547.7" font-size="41" style="font-weight:normal;fill:#231f20">c.</text>
<text x="-0.8" y="1080.9" font-size="41" style="font-weight:bold;fill:#231f20">d</text>
<text x="-0.8" y="1644" font-size="41" style="font-weight:bold;fill:#231f20">e</text>
<text x="-0.8" y="2226.8" font-size="41" style="font-weight:bold;fill:#231f20">f</text>
</svg>
</body></html>
